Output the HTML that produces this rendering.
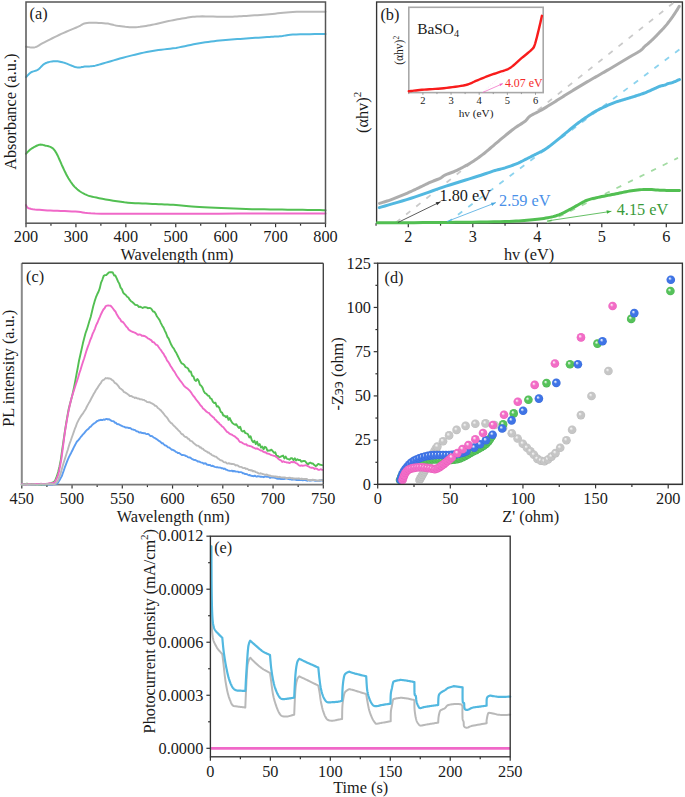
<!DOCTYPE html>
<html><head><meta charset="utf-8"><title>Figure</title>
<style>html,body{margin:0;padding:0;background:#fff;overflow:hidden}svg{display:block}text{font-family:"Liberation Serif",serif}</style>
</head><body>
<svg width="685" height="797" viewBox="0 0 685 797"><defs><radialGradient id="gB" cx="0.5" cy="0.5" r="0.5" fx="0.36" fy="0.33"><stop offset="0" stop-color="#dfe8fb" stop-opacity="1"/><stop offset="0.1" stop-color="#dfe8fb"/><stop offset="0.42" stop-color="#3f74e6"/><stop offset="0.85" stop-color="#3f74e6"/><stop offset="1" stop-color="#3468d8"/></radialGradient><radialGradient id="gG" cx="0.5" cy="0.5" r="0.5" fx="0.36" fy="0.33"><stop offset="0" stop-color="#e2f4e3" stop-opacity="1"/><stop offset="0.1" stop-color="#e2f4e3"/><stop offset="0.42" stop-color="#55c25a"/><stop offset="0.85" stop-color="#55c25a"/><stop offset="1" stop-color="#45b04b"/></radialGradient><radialGradient id="gP" cx="0.5" cy="0.5" r="0.5" fx="0.36" fy="0.33"><stop offset="0" stop-color="#fde4f4" stop-opacity="1"/><stop offset="0.1" stop-color="#fde4f4"/><stop offset="0.42" stop-color="#f26cc6"/><stop offset="0.85" stop-color="#f26cc6"/><stop offset="1" stop-color="#e85bb9"/></radialGradient><radialGradient id="gY" cx="0.5" cy="0.5" r="0.5" fx="0.36" fy="0.33"><stop offset="0" stop-color="#f0f0f0" stop-opacity="1"/><stop offset="0.1" stop-color="#f0f0f0"/><stop offset="0.42" stop-color="#c6c6c6"/><stop offset="0.85" stop-color="#c6c6c6"/><stop offset="1" stop-color="#b8b8b8"/></radialGradient></defs><rect width="685" height="797" fill="#fff"/><line x1="26" y1="223.2" x2="26" y2="227.2" stroke="#333333" stroke-width="1.2" />
<text x="26" y="242" font-size="16.3" text-anchor="middle" fill="#1a1a1a" >200</text>
<line x1="50.96" y1="223.2" x2="50.96" y2="225.7" stroke="#333333" stroke-width="1.2" />
<line x1="75.92" y1="223.2" x2="75.92" y2="227.2" stroke="#333333" stroke-width="1.2" />
<text x="75.92" y="242" font-size="16.3" text-anchor="middle" fill="#1a1a1a" >300</text>
<line x1="100.88" y1="223.2" x2="100.88" y2="225.7" stroke="#333333" stroke-width="1.2" />
<line x1="125.83" y1="223.2" x2="125.83" y2="227.2" stroke="#333333" stroke-width="1.2" />
<text x="125.83" y="242" font-size="16.3" text-anchor="middle" fill="#1a1a1a" >400</text>
<line x1="150.79" y1="223.2" x2="150.79" y2="225.7" stroke="#333333" stroke-width="1.2" />
<line x1="175.75" y1="223.2" x2="175.75" y2="227.2" stroke="#333333" stroke-width="1.2" />
<text x="175.75" y="242" font-size="16.3" text-anchor="middle" fill="#1a1a1a" >500</text>
<line x1="200.71" y1="223.2" x2="200.71" y2="225.7" stroke="#333333" stroke-width="1.2" />
<line x1="225.67" y1="223.2" x2="225.67" y2="227.2" stroke="#333333" stroke-width="1.2" />
<text x="225.67" y="242" font-size="16.3" text-anchor="middle" fill="#1a1a1a" >600</text>
<line x1="250.62" y1="223.2" x2="250.62" y2="225.7" stroke="#333333" stroke-width="1.2" />
<line x1="275.58" y1="223.2" x2="275.58" y2="227.2" stroke="#333333" stroke-width="1.2" />
<text x="275.58" y="242" font-size="16.3" text-anchor="middle" fill="#1a1a1a" >700</text>
<line x1="300.54" y1="223.2" x2="300.54" y2="225.7" stroke="#333333" stroke-width="1.2" />
<line x1="325.5" y1="223.2" x2="325.5" y2="227.2" stroke="#333333" stroke-width="1.2" />
<text x="325.5" y="242" font-size="16.3" text-anchor="middle" fill="#1a1a1a" >800</text>
<text x="177" y="259.7" font-size="16.3" text-anchor="middle" fill="#1a1a1a" >Wavelength (nm)</text>
<text x="0" y="0" font-size="16.3" text-anchor="middle" fill="#1a1a1a" transform="translate(16 111.7) rotate(-90)">Absorbance (a.u.)</text>
<text x="29.5" y="18.7" font-size="16.3" text-anchor="start" fill="#1a1a1a" >(a)</text>
<path d="M26 46.7 L26.66 46.79 L27.53 46.94 L28.58 47.13 L29.74 47.31 L30.96 47.47 L32.2 47.55 L33.39 47.54 L34.5 47.4 L35.48 47.14 L36.38 46.79 L37.24 46.36 L38.11 45.86 L39.04 45.28 L40.09 44.65 L41.29 43.95 L42.7 43.2 L44.33 42.37 L46.15 41.43 L48.11 40.41 L50.19 39.34 L52.36 38.24 L54.57 37.14 L56.79 36.05 L59 35 L61.29 33.95 L63.72 32.87 L66.25 31.77 L68.78 30.69 L71.26 29.63 L73.62 28.63 L75.79 27.72 L77.7 26.9 L79.26 26.17 L80.49 25.51 L81.5 24.9 L82.4 24.36 L83.3 23.89 L84.31 23.49 L85.54 23.16 L87.1 22.9 L89.04 22.73 L91.29 22.67 L93.74 22.68 L96.31 22.76 L98.9 22.88 L101.41 23.04 L103.74 23.22 L105.8 23.4 L107.56 23.61 L109.09 23.86 L110.46 24.16 L111.74 24.48 L113.01 24.81 L114.33 25.13 L115.77 25.43 L117.4 25.7 L119.22 25.96 L121.16 26.24 L123.2 26.51 L125.31 26.78 L127.45 27 L129.59 27.18 L131.72 27.28 L133.8 27.3 L135.84 27.23 L137.88 27.07 L139.92 26.85 L141.95 26.58 L143.98 26.27 L146.02 25.92 L148.06 25.56 L150.1 25.2 L152.14 24.81 L154.17 24.38 L156.19 23.91 L158.22 23.43 L160.27 22.93 L162.32 22.43 L164.4 21.95 L166.5 21.5 L168.65 21.06 L170.85 20.61 L173.07 20.17 L175.31 19.73 L177.54 19.31 L179.75 18.91 L181.91 18.54 L184 18.2 L185.94 17.89 L187.7 17.59 L189.38 17.32 L191.04 17.07 L192.79 16.85 L194.71 16.66 L196.89 16.51 L199.4 16.4 L202.36 16.35 L205.73 16.38 L209.39 16.45 L213.19 16.54 L217.03 16.65 L220.76 16.74 L224.26 16.8 L227.4 16.8 L230.15 16.76 L232.62 16.69 L234.89 16.59 L237.04 16.48 L239.16 16.35 L241.32 16.21 L243.61 16.06 L246.1 15.9 L248.79 15.73 L251.6 15.54 L254.5 15.34 L257.46 15.13 L260.45 14.91 L263.46 14.68 L266.45 14.44 L269.4 14.2 L272.26 13.94 L275.02 13.64 L277.76 13.33 L280.51 13.01 L283.34 12.71 L286.29 12.43 L289.43 12.19 L292.8 12 L296.67 11.87 L301.09 11.78 L305.82 11.74 L310.61 11.71 L315.22 11.71 L319.41 11.71 L322.91 11.71 L325.5 11.7" fill="none" stroke="#b9b9b9" stroke-width="2.0" stroke-linejoin="round" stroke-linecap="round" />
<path d="M26 77.1 L26.37 76.72 L26.85 76.21 L27.42 75.6 L28.06 74.92 L28.76 74.23 L29.49 73.55 L30.25 72.93 L31 72.4 L31.78 71.98 L32.61 71.64 L33.48 71.36 L34.38 71.09 L35.29 70.81 L36.2 70.49 L37.11 70.09 L38 69.6 L38.86 68.97 L39.69 68.22 L40.52 67.39 L41.35 66.52 L42.2 65.65 L43.08 64.84 L44.01 64.1 L45 63.5 L46.06 63.01 L47.18 62.57 L48.35 62.2 L49.56 61.88 L50.78 61.62 L52 61.43 L53.21 61.28 L54.4 61.2 L55.54 61.18 L56.65 61.21 L57.74 61.31 L58.83 61.46 L59.95 61.67 L61.12 61.93 L62.37 62.24 L63.7 62.6 L65.17 63.07 L66.78 63.67 L68.48 64.36 L70.23 65.08 L71.96 65.79 L73.63 66.43 L75.19 66.95 L76.6 67.3 L77.83 67.47 L78.93 67.5 L79.93 67.43 L80.87 67.29 L81.78 67.1 L82.7 66.9 L83.66 66.72 L84.7 66.6 L85.8 66.53 L86.9 66.49 L88.03 66.45 L89.17 66.41 L90.35 66.35 L91.56 66.26 L92.81 66.11 L94.1 65.9 L95.37 65.63 L96.59 65.33 L97.81 64.99 L99.08 64.61 L100.46 64.19 L102.01 63.71 L103.77 63.18 L105.8 62.6 L108.16 61.93 L110.81 61.17 L113.68 60.34 L116.72 59.47 L119.85 58.58 L123 57.71 L126.1 56.87 L129.1 56.1 L132.02 55.37 L134.94 54.66 L137.86 53.96 L140.79 53.28 L143.71 52.63 L146.64 52.01 L149.57 51.44 L152.5 50.9 L155.43 50.43 L158.37 50.04 L161.31 49.69 L164.25 49.37 L167.19 49.05 L170.13 48.72 L173.07 48.34 L176 47.9 L178.93 47.38 L181.86 46.8 L184.79 46.19 L187.71 45.55 L190.64 44.91 L193.56 44.3 L196.48 43.72 L199.4 43.2 L202.32 42.73 L205.23 42.3 L208.14 41.89 L211.05 41.51 L213.96 41.16 L216.87 40.82 L219.78 40.5 L222.7 40.2 L225.62 39.92 L228.55 39.68 L231.47 39.46 L234.4 39.26 L237.33 39.07 L240.25 38.89 L243.18 38.7 L246.1 38.5 L249.1 38.29 L252.2 38.07 L255.35 37.85 L258.48 37.64 L261.52 37.43 L264.39 37.23 L267.04 37.06 L269.4 36.9 L271.42 36.78 L273.14 36.68 L274.64 36.61 L275.97 36.55 L277.22 36.49 L278.45 36.42 L279.72 36.32 L281.1 36.2 L282.42 36.04 L283.53 35.84 L284.56 35.63 L285.64 35.4 L286.87 35.17 L288.4 34.96 L290.33 34.76 L292.8 34.6 L296.11 34.46 L300.26 34.35 L304.96 34.24 L309.88 34.15 L314.71 34.07 L319.13 34 L322.83 33.95 L325.5 33.9" fill="none" stroke="#52b8e0" stroke-width="2.0" stroke-linejoin="round" stroke-linecap="round" />
<path d="M26 153.7 L26.36 153.33 L26.82 152.84 L27.37 152.26 L27.99 151.61 L28.67 150.93 L29.41 150.25 L30.19 149.6 L31 149 L31.89 148.42 L32.88 147.8 L33.95 147.17 L35.05 146.56 L36.16 145.99 L37.24 145.49 L38.27 145.09 L39.2 144.8 L40.03 144.64 L40.79 144.59 L41.5 144.63 L42.18 144.74 L42.84 144.9 L43.52 145.1 L44.23 145.3 L45 145.5 L45.83 145.69 L46.72 145.88 L47.64 146.09 L48.57 146.33 L49.49 146.6 L50.38 146.93 L51.23 147.33 L52 147.8 L52.69 148.32 L53.31 148.86 L53.88 149.45 L54.42 150.09 L54.96 150.82 L55.5 151.66 L56.08 152.61 L56.7 153.7 L57.37 154.98 L58.07 156.44 L58.79 158.04 L59.53 159.74 L60.27 161.48 L61.02 163.22 L61.76 164.91 L62.5 166.5 L63.23 168.03 L63.94 169.56 L64.66 171.07 L65.38 172.56 L66.1 174.03 L66.85 175.46 L67.61 176.86 L68.4 178.2 L69.21 179.5 L70.02 180.78 L70.84 182.02 L71.69 183.22 L72.56 184.39 L73.46 185.51 L74.41 186.58 L75.4 187.6 L76.44 188.57 L77.51 189.5 L78.61 190.38 L79.76 191.22 L80.94 192.01 L82.15 192.75 L83.41 193.45 L84.7 194.1 L85.94 194.67 L87.07 195.16 L88.2 195.58 L89.38 195.96 L90.71 196.33 L92.27 196.71 L94.14 197.13 L96.4 197.6 L99.12 198.15 L102.25 198.76 L105.7 199.41 L109.38 200.07 L113.18 200.71 L117.01 201.31 L120.78 201.85 L124.4 202.3 L127.94 202.65 L131.53 202.93 L135.13 203.15 L138.73 203.33 L142.3 203.47 L145.8 203.61 L149.21 203.75 L152.5 203.9 L155.66 204.06 L158.7 204.19 L161.65 204.31 L164.54 204.43 L167.4 204.55 L170.24 204.68 L173.1 204.83 L176 205 L178.77 205.2 L181.31 205.41 L183.76 205.65 L186.25 205.89 L188.92 206.14 L191.91 206.39 L195.36 206.65 L199.4 206.9 L204.12 207.16 L209.44 207.44 L215.21 207.73 L221.29 208.03 L227.56 208.31 L233.88 208.57 L240.1 208.8 L246.1 209 L252.03 209.16 L258.1 209.28 L264.23 209.37 L270.32 209.45 L276.31 209.51 L282.11 209.57 L287.63 209.63 L292.8 209.7 L297.78 209.78 L302.73 209.85 L307.52 209.92 L312.07 209.99 L316.25 210.06 L319.95 210.11 L323.07 210.16 L325.5 210.2" fill="none" stroke="#52bf52" stroke-width="2.0" stroke-linejoin="round" stroke-linecap="round" />
<path d="M26 205.1 L26.2 205.38 L26.36 205.77 L26.54 206.23 L26.8 206.74 L27.2 207.26 L27.79 207.76 L28.64 208.22 L29.8 208.6 L31.27 208.91 L32.99 209.18 L34.93 209.43 L37.09 209.64 L39.43 209.84 L41.95 210.03 L44.61 210.22 L47.4 210.4 L50.42 210.57 L53.72 210.72 L57.24 210.85 L60.89 210.98 L64.61 211.11 L68.32 211.25 L71.94 211.41 L75.4 211.6 L78.33 211.83 L80.65 212.11 L82.69 212.41 L84.82 212.72 L87.37 213.03 L90.71 213.3 L95.17 213.53 L101.1 213.7 L108.32 213.8 L116.43 213.85 L125.42 213.87 L135.31 213.85 L146.11 213.81 L157.81 213.77 L170.44 213.73 L184 213.7 L199.85 213.67 L218.57 213.64 L238.99 213.6 L259.93 213.55 L280.23 213.5 L298.7 213.46 L314.18 213.43 L325.5 213.4" fill="none" stroke="#f068c8" stroke-width="2.0" stroke-linejoin="round" stroke-linecap="round" />
<rect x="26" y="2" width="299.5" height="221.2" fill="none" stroke="#555555" stroke-width="1.5"/>
<line x1="376.05" y1="223.2" x2="376.05" y2="225.7" stroke="#333333" stroke-width="1.2" />
<line x1="408.3" y1="223.2" x2="408.3" y2="227.2" stroke="#333333" stroke-width="1.2" />
<text x="408.3" y="242" font-size="16.3" text-anchor="middle" fill="#1a1a1a" >2</text>
<line x1="440.55" y1="223.2" x2="440.55" y2="225.7" stroke="#333333" stroke-width="1.2" />
<line x1="472.8" y1="223.2" x2="472.8" y2="227.2" stroke="#333333" stroke-width="1.2" />
<text x="472.8" y="242" font-size="16.3" text-anchor="middle" fill="#1a1a1a" >3</text>
<line x1="505.05" y1="223.2" x2="505.05" y2="225.7" stroke="#333333" stroke-width="1.2" />
<line x1="537.3" y1="223.2" x2="537.3" y2="227.2" stroke="#333333" stroke-width="1.2" />
<text x="537.3" y="242" font-size="16.3" text-anchor="middle" fill="#1a1a1a" >4</text>
<line x1="569.55" y1="223.2" x2="569.55" y2="225.7" stroke="#333333" stroke-width="1.2" />
<line x1="601.8" y1="223.2" x2="601.8" y2="227.2" stroke="#333333" stroke-width="1.2" />
<text x="601.8" y="242" font-size="16.3" text-anchor="middle" fill="#1a1a1a" >5</text>
<line x1="634.05" y1="223.2" x2="634.05" y2="225.7" stroke="#333333" stroke-width="1.2" />
<line x1="666.3" y1="223.2" x2="666.3" y2="227.2" stroke="#333333" stroke-width="1.2" />
<text x="666.3" y="242" font-size="16.3" text-anchor="middle" fill="#1a1a1a" >6</text>
<text x="529" y="259.5" font-size="16.3" text-anchor="middle" fill="#1a1a1a" >h<tspan>v</tspan> (eV)</text>
<text x="0" y="0" font-size="16.3" text-anchor="middle" fill="#1a1a1a" transform="translate(367.5 112.4) rotate(-90)">(αhv)<tspan font-size="11" dy="-7">2</tspan></text>
<text x="380.4" y="19.5" font-size="16.3" text-anchor="start" fill="#1a1a1a" >(b)</text>
<rect x="376.6" y="2" width="305.8" height="221.2" fill="none" stroke="#333333" stroke-width="1.35"/>
<line x1="396" y1="222.5" x2="673.8" y2="2.6" stroke="#cacaca" stroke-width="1.8" stroke-dasharray="5.4 7.5"/>
<line x1="447.6" y1="222.5" x2="679.8" y2="49.3" stroke="#8cd3ee" stroke-width="1.8" stroke-dasharray="5.4 7.5"/>
<line x1="547" y1="222.5" x2="678" y2="157.9" stroke="#a2dba2" stroke-width="1.8" stroke-dasharray="5.4 7.5"/>
<path d="M379.5 203.4 L380.31 203.15 L381.4 202.82 L382.69 202.43 L384.12 201.99 L385.64 201.53 L387.16 201.04 L388.64 200.56 L390 200.1 L391.27 199.64 L392.54 199.18 L393.79 198.7 L395.03 198.21 L396.27 197.72 L397.51 197.22 L398.75 196.71 L400 196.2 L401.25 195.68 L402.5 195.16 L403.75 194.63 L405 194.1 L406.25 193.56 L407.5 193.01 L408.75 192.46 L410 191.9 L411.25 191.33 L412.5 190.76 L413.75 190.17 L415 189.58 L416.25 188.99 L417.5 188.39 L418.75 187.8 L420 187.2 L421.25 186.6 L422.5 185.99 L423.75 185.38 L425 184.76 L426.25 184.15 L427.5 183.55 L428.75 182.97 L430 182.4 L431.28 181.85 L432.62 181.3 L433.97 180.77 L435.31 180.25 L436.62 179.74 L437.85 179.25 L438.99 178.76 L440 178.3 L440.83 177.86 L441.48 177.45 L442.02 177.06 L442.5 176.69 L442.98 176.31 L443.52 175.93 L444.17 175.53 L445 175.1 L446.01 174.65 L447.15 174.2 L448.38 173.74 L449.69 173.27 L451.03 172.78 L452.38 172.28 L453.72 171.75 L455 171.2 L456.25 170.63 L457.5 170.03 L458.75 169.41 L460 168.78 L461.25 168.13 L462.5 167.47 L463.75 166.79 L465 166.1 L466.25 165.4 L467.5 164.7 L468.75 163.98 L470 163.24 L471.25 162.49 L472.5 161.72 L473.75 160.92 L475 160.1 L476.25 159.25 L477.5 158.37 L478.75 157.48 L480 156.56 L481.25 155.62 L482.5 154.66 L483.75 153.69 L485 152.7 L486.25 151.69 L487.5 150.65 L488.75 149.59 L490 148.51 L491.25 147.43 L492.5 146.34 L493.75 145.27 L495 144.2 L496.25 143.14 L497.5 142.08 L498.75 141.02 L500 139.96 L501.25 138.91 L502.5 137.86 L503.75 136.83 L505 135.8 L506.25 134.78 L507.5 133.76 L508.75 132.74 L510 131.74 L511.25 130.75 L512.5 129.77 L513.75 128.82 L515 127.9 L516.28 127 L517.62 126.13 L518.97 125.27 L520.31 124.43 L521.62 123.62 L522.85 122.82 L523.99 122.05 L525 121.3 L525.83 120.58 L526.48 119.9 L527.02 119.25 L527.5 118.62 L527.98 118 L528.52 117.37 L529.17 116.75 L530 116.1 L531.01 115.45 L532.15 114.8 L533.38 114.15 L534.69 113.5 L536.03 112.84 L537.38 112.18 L538.72 111.5 L540 110.8 L541.25 110.09 L542.5 109.36 L543.75 108.61 L545 107.86 L546.25 107.1 L547.5 106.34 L548.75 105.57 L550 104.8 L551.25 104.03 L552.5 103.25 L553.75 102.46 L555 101.67 L556.25 100.88 L557.5 100.08 L558.75 99.29 L560 98.5 L561.25 97.71 L562.5 96.92 L563.75 96.13 L565 95.34 L566.25 94.55 L567.5 93.76 L568.75 92.98 L570 92.2 L571.25 91.43 L572.5 90.66 L573.75 89.89 L575 89.12 L576.25 88.36 L577.5 87.61 L578.75 86.85 L580 86.1 L581.25 85.35 L582.5 84.61 L583.75 83.86 L585 83.12 L586.25 82.39 L587.5 81.66 L588.75 80.93 L590 80.2 L591.25 79.48 L592.5 78.76 L593.75 78.05 L595 77.34 L596.25 76.64 L597.5 75.93 L598.75 75.22 L600 74.5 L601.25 73.78 L602.5 73.06 L603.75 72.34 L605 71.61 L606.25 70.89 L607.5 70.16 L608.75 69.43 L610 68.7 L611.25 67.97 L612.5 67.24 L613.75 66.5 L615 65.77 L616.25 65.03 L617.5 64.29 L618.75 63.55 L620 62.8 L621.25 62.05 L622.5 61.28 L623.75 60.51 L625 59.74 L626.25 58.97 L627.5 58.21 L628.75 57.45 L630 56.7 L631.28 55.95 L632.62 55.2 L633.97 54.45 L635.31 53.71 L636.62 52.98 L637.85 52.27 L638.99 51.57 L640 50.9 L640.86 50.26 L641.6 49.64 L642.24 49.04 L642.81 48.46 L643.34 47.88 L643.87 47.32 L644.41 46.76 L645 46.2 L645.62 45.65 L646.25 45.11 L646.88 44.58 L647.5 44.06 L648.12 43.53 L648.75 43 L649.38 42.46 L650 41.9 L650.62 41.33 L651.25 40.74 L651.88 40.15 L652.5 39.56 L653.12 38.95 L653.75 38.34 L654.38 37.72 L655 37.1 L655.62 36.47 L656.25 35.83 L656.88 35.18 L657.5 34.53 L658.12 33.87 L658.75 33.22 L659.38 32.56 L660 31.9 L660.62 31.25 L661.25 30.61 L661.88 29.96 L662.5 29.32 L663.12 28.67 L663.75 28 L664.38 27.31 L665 26.6 L665.62 25.87 L666.25 25.11 L666.88 24.35 L667.5 23.56 L668.12 22.77 L668.75 21.95 L669.38 21.13 L670 20.3 L670.63 19.45 L671.27 18.57 L671.91 17.68 L672.55 16.78 L673.18 15.88 L673.81 14.97 L674.41 14.08 L675 13.2 L675.59 12.29 L676.2 11.32 L676.82 10.33 L677.41 9.36 L677.97 8.44 L678.46 7.61 L678.88 6.92 L679.2 6.4" fill="none" stroke="#adadad" stroke-width="3.0" stroke-linejoin="round" stroke-linecap="round" />
<path d="M379.3 207.6 L381.72 206.89 L384.92 205.97 L388.72 204.88 L392.96 203.65 L397.48 202.33 L402.1 200.95 L406.66 199.56 L411 198.2 L415.22 196.82 L419.52 195.36 L423.88 193.85 L428.29 192.3 L432.73 190.74 L437.17 189.19 L441.6 187.67 L446 186.2 L450.52 184.73 L455.24 183.23 L460.05 181.72 L464.81 180.24 L469.41 178.82 L473.73 177.48 L477.63 176.27 L481 175.2 L483.78 174.3 L486.07 173.53 L487.96 172.88 L489.56 172.32 L490.97 171.83 L492.27 171.38 L493.58 170.94 L495 170.5 L496.43 170.09 L497.73 169.74 L498.96 169.45 L500.12 169.18 L501.28 168.91 L502.45 168.62 L503.68 168.29 L505 167.9 L506.43 167.44 L507.95 166.94 L509.53 166.39 L511.12 165.83 L512.71 165.26 L514.23 164.69 L515.68 164.13 L517 163.6 L518.18 163.1 L519.23 162.62 L520.21 162.16 L521.12 161.7 L522.03 161.23 L522.95 160.75 L523.93 160.24 L525 159.7 L526.15 159.12 L527.36 158.51 L528.6 157.88 L529.88 157.23 L531.16 156.57 L532.45 155.91 L533.74 155.25 L535 154.6 L536.25 153.97 L537.5 153.36 L538.75 152.76 L540 152.15 L541.25 151.52 L542.5 150.86 L543.75 150.16 L545 149.4 L546.25 148.58 L547.5 147.7 L548.75 146.79 L550 145.84 L551.25 144.86 L552.5 143.88 L553.75 142.89 L555 141.9 L556.25 140.91 L557.5 139.9 L558.75 138.88 L560 137.85 L561.25 136.81 L562.5 135.77 L563.75 134.73 L565 133.7 L566.25 132.66 L567.5 131.61 L568.75 130.55 L570 129.49 L571.25 128.44 L572.5 127.41 L573.75 126.39 L575 125.4 L576.25 124.43 L577.5 123.49 L578.75 122.55 L580 121.64 L581.25 120.73 L582.5 119.85 L583.75 118.97 L585 118.1 L586.25 117.24 L587.5 116.38 L588.75 115.54 L590 114.71 L591.25 113.89 L592.5 113.1 L593.75 112.34 L595 111.6 L596.25 110.9 L597.5 110.23 L598.75 109.58 L600 108.96 L601.25 108.35 L602.5 107.76 L603.75 107.18 L605 106.6 L606.25 106.03 L607.5 105.47 L608.75 104.92 L610 104.39 L611.25 103.87 L612.5 103.36 L613.75 102.87 L615 102.4 L616.25 101.95 L617.5 101.53 L618.75 101.12 L620 100.73 L621.25 100.34 L622.5 99.96 L623.75 99.58 L625 99.2 L626.25 98.82 L627.5 98.45 L628.75 98.08 L630 97.71 L631.25 97.35 L632.5 96.97 L633.75 96.59 L635 96.2 L636.25 95.8 L637.5 95.4 L638.75 95 L640 94.59 L641.25 94.17 L642.5 93.73 L643.75 93.28 L645 92.8 L646.28 92.28 L647.62 91.72 L648.97 91.13 L650.31 90.52 L651.62 89.93 L652.85 89.37 L653.99 88.85 L655 88.4 L655.86 88.01 L656.6 87.67 L657.24 87.37 L657.81 87.1 L658.34 86.86 L658.87 86.63 L659.41 86.41 L660 86.2 L660.64 86 L661.3 85.83 L661.96 85.69 L662.62 85.55 L663.27 85.42 L663.89 85.29 L664.47 85.15 L665 85 L665.46 84.83 L665.87 84.65 L666.23 84.47 L666.56 84.28 L666.89 84.1 L667.23 83.92 L667.59 83.75 L668 83.6 L668.45 83.47 L668.93 83.36 L669.43 83.26 L669.94 83.16 L670.46 83.07 L670.98 82.96 L671.49 82.84 L672 82.7 L672.5 82.53 L673.01 82.35 L673.52 82.15 L674.03 81.94 L674.54 81.73 L675.04 81.52 L675.52 81.3 L676 81.1 L676.49 80.89 L676.99 80.66 L677.5 80.43 L678 80.2 L678.47 79.98 L678.88 79.79 L679.23 79.62 L679.5 79.5" fill="none" stroke="#52b8e0" stroke-width="3.0" stroke-linejoin="round" stroke-linecap="round" />
<path d="M377.5 222.7 L382.34 222.69 L388.79 222.68 L396.47 222.67 L405 222.65 L414 222.63 L423.09 222.6 L431.88 222.56 L440 222.5 L447.85 222.43 L455.95 222.36 L464.13 222.27 L472.22 222.17 L480.03 222.07 L487.38 221.96 L494.1 221.83 L500 221.7 L505.01 221.56 L509.26 221.41 L512.9 221.25 L516.07 221.09 L518.92 220.91 L521.59 220.72 L524.24 220.52 L527 220.3 L529.79 220.07 L532.42 219.84 L534.92 219.59 L537.29 219.33 L539.56 219.06 L541.74 218.76 L543.85 218.44 L545.9 218.1 L547.85 217.75 L549.65 217.39 L551.36 217.03 L552.99 216.64 L554.57 216.21 L556.15 215.74 L557.75 215.2 L559.4 214.6 L561.09 213.91 L562.77 213.14 L564.46 212.31 L566.15 211.44 L567.84 210.53 L569.52 209.61 L571.21 208.7 L572.9 207.8 L574.59 206.89 L576.27 205.92 L577.96 204.93 L579.65 203.94 L581.34 202.98 L583.02 202.07 L584.71 201.23 L586.4 200.5 L588.07 199.88 L589.71 199.35 L591.34 198.9 L592.98 198.49 L594.64 198.12 L596.34 197.76 L598.08 197.4 L599.9 197 L601.81 196.58 L603.82 196.17 L605.9 195.76 L608 195.35 L610.1 194.95 L612.18 194.56 L614.19 194.17 L616.1 193.8 L617.9 193.43 L619.6 193.07 L621.24 192.71 L622.85 192.36 L624.46 192.02 L626.1 191.69 L627.8 191.39 L629.6 191.1 L631.5 190.82 L633.46 190.54 L635.48 190.28 L637.53 190.03 L639.61 189.8 L641.69 189.62 L643.76 189.48 L645.8 189.4 L647.82 189.39 L649.82 189.46 L651.81 189.58 L653.81 189.73 L655.82 189.9 L657.85 190.06 L659.91 190.2 L662 190.3 L664.25 190.36 L666.71 190.4 L669.27 190.44 L671.81 190.46 L674.23 190.47 L676.4 190.48 L678.23 190.49 L679.6 190.5" fill="none" stroke="#52bf52" stroke-width="3.0" stroke-linejoin="round" stroke-linecap="round" />
<line x1="397.9" y1="222.5" x2="440.6" y2="201.7" stroke="#333" stroke-width="0.8" />
<path d="M440.6 201.7 L437.13 205.3 L435.63 202.22 Z" fill="#333"/>
<text x="439.5" y="200.6" font-size="16.3" text-anchor="start" fill="#1a1a1a" >1.80 eV</text>
<line x1="447" y1="221.5" x2="495.9" y2="202.6" stroke="#4aa8e0" stroke-width="0.8" />
<path d="M495.9 202.6 L492.14 205.89 L490.9 202.69 Z" fill="#4aa8e0"/>
<text x="499" y="206.4" font-size="16.3" text-anchor="start" fill="#4a90e8" >2.59 eV</text>
<line x1="547" y1="221" x2="611.4" y2="211.3" stroke="#3fb03f" stroke-width="0.8" />
<path d="M611.4 211.3 L607.01 213.69 L606.5 210.3 Z" fill="#3fb03f"/>
<text x="616.7" y="214.8" font-size="16.3" text-anchor="start" fill="#3a9a3a" >4.15 eV</text>
<rect x="408.8" y="7.3" width="134.4" height="85.3" fill="#fff" stroke="#a8a8a8" stroke-width="1.6"/>
<line x1="408.82" y1="92.6" x2="408.82" y2="94.1" stroke="#888" stroke-width="0.8" />
<line x1="422.9" y1="92.6" x2="422.9" y2="94.8" stroke="#888" stroke-width="0.8" />
<text x="422.9" y="104" font-size="10.5" text-anchor="middle" fill="#1a1a1a" >2</text>
<line x1="436.97" y1="92.6" x2="436.97" y2="94.1" stroke="#888" stroke-width="0.8" />
<line x1="451.05" y1="92.6" x2="451.05" y2="94.8" stroke="#888" stroke-width="0.8" />
<text x="451.05" y="104" font-size="10.5" text-anchor="middle" fill="#1a1a1a" >3</text>
<line x1="465.12" y1="92.6" x2="465.12" y2="94.1" stroke="#888" stroke-width="0.8" />
<line x1="479.2" y1="92.6" x2="479.2" y2="94.8" stroke="#888" stroke-width="0.8" />
<text x="479.2" y="104" font-size="10.5" text-anchor="middle" fill="#1a1a1a" >4</text>
<line x1="493.27" y1="92.6" x2="493.27" y2="94.1" stroke="#888" stroke-width="0.8" />
<line x1="507.35" y1="92.6" x2="507.35" y2="94.8" stroke="#888" stroke-width="0.8" />
<text x="507.35" y="104" font-size="10.5" text-anchor="middle" fill="#1a1a1a" >5</text>
<line x1="521.42" y1="92.6" x2="521.42" y2="94.1" stroke="#888" stroke-width="0.8" />
<line x1="535.5" y1="92.6" x2="535.5" y2="94.8" stroke="#888" stroke-width="0.8" />
<text x="535.5" y="104" font-size="10.5" text-anchor="middle" fill="#1a1a1a" >6</text>
<text x="476.1" y="116.9" font-size="11.3" text-anchor="middle" fill="#1a1a1a" >hv (eV)</text>
<text x="0" y="0" font-size="11.5" text-anchor="middle" fill="#1a1a1a" transform="translate(403.3 50.3) rotate(-90)">(αhv)<tspan font-size="7.5" dy="-4.8">2</tspan></text>
<text x="417.2" y="33.9" font-size="15.4" text-anchor="start" fill="#1a1a1a" >BaSO<tspan font-size="10.3" dy="3.4">4</tspan></text>
<path d="M408.8 91.3 L409.75 91.18 L410.95 91.03 L412.37 90.85 L413.98 90.65 L415.77 90.44 L417.7 90.22 L419.75 90 L421.9 89.8 L424.22 89.62 L426.76 89.44 L429.47 89.28 L432.3 89.11 L435.2 88.92 L438.12 88.71 L441 88.48 L443.8 88.2 L446.61 87.88 L449.53 87.54 L452.5 87.17 L455.44 86.78 L458.29 86.36 L461 85.92 L463.49 85.47 L465.7 85 L467.59 84.51 L469.2 83.98 L470.59 83.44 L471.83 82.88 L472.99 82.3 L474.13 81.73 L475.31 81.16 L476.6 80.6 L477.97 80.05 L479.35 79.49 L480.72 78.93 L482.1 78.37 L483.48 77.81 L484.85 77.26 L486.23 76.73 L487.6 76.2 L488.97 75.69 L490.33 75.19 L491.69 74.71 L493.05 74.23 L494.41 73.75 L495.77 73.27 L497.13 72.79 L498.5 72.3 L499.87 71.84 L501.25 71.43 L502.62 71.04 L504 70.63 L505.38 70.19 L506.75 69.67 L508.13 69.05 L509.5 68.3 L510.87 67.4 L512.23 66.37 L513.59 65.23 L514.95 64.03 L516.31 62.78 L517.67 61.52 L519.03 60.29 L520.4 59.1 L521.82 57.92 L523.32 56.7 L524.86 55.47 L526.38 54.24 L527.83 53.04 L529.19 51.9 L530.39 50.85 L531.4 49.9 L532.17 49.15 L532.74 48.62 L533.16 48.22 L533.47 47.85 L533.73 47.43 L533.99 46.85 L534.29 46.04 L534.7 44.9 L535.2 43.37 L535.74 41.51 L536.3 39.42 L536.88 37.18 L537.45 34.88 L538 32.61 L538.52 30.45 L539 28.5 L539.45 26.65 L539.89 24.77 L540.32 22.91 L540.72 21.12 L541.09 19.47 L541.41 18 L541.69 16.75 L541.9 15.8" fill="none" stroke="#f81c1c" stroke-width="2.4" stroke-linejoin="round" stroke-linecap="round" />
<line x1="482.8" y1="92.4" x2="506" y2="71" stroke="#f7c0e4" stroke-width="0.5" stroke-dasharray="1 1.5"/>
<line x1="482.8" y1="92.4" x2="502.9" y2="83.6" stroke="#f060c0" stroke-width="0.7" />
<path d="M502.9 83.6 L500.37 86.02 L499.41 83.82 Z" fill="#f060c0"/>
<text x="504.9" y="87.2" font-size="11.9" text-anchor="start" fill="#f52a2a" >4.07 eV</text>
<line x1="21.8" y1="484.6" x2="21.8" y2="488.6" stroke="#333333" stroke-width="1.2" />
<text x="21.8" y="503.5" font-size="16.3" text-anchor="middle" fill="#1a1a1a" >450</text>
<line x1="46.92" y1="484.6" x2="46.92" y2="487.1" stroke="#333333" stroke-width="1.2" />
<line x1="72.05" y1="484.6" x2="72.05" y2="488.6" stroke="#333333" stroke-width="1.2" />
<text x="72.05" y="503.5" font-size="16.3" text-anchor="middle" fill="#1a1a1a" >500</text>
<line x1="97.17" y1="484.6" x2="97.17" y2="487.1" stroke="#333333" stroke-width="1.2" />
<line x1="122.3" y1="484.6" x2="122.3" y2="488.6" stroke="#333333" stroke-width="1.2" />
<text x="122.3" y="503.5" font-size="16.3" text-anchor="middle" fill="#1a1a1a" >550</text>
<line x1="147.42" y1="484.6" x2="147.42" y2="487.1" stroke="#333333" stroke-width="1.2" />
<line x1="172.55" y1="484.6" x2="172.55" y2="488.6" stroke="#333333" stroke-width="1.2" />
<text x="172.55" y="503.5" font-size="16.3" text-anchor="middle" fill="#1a1a1a" >600</text>
<line x1="197.67" y1="484.6" x2="197.67" y2="487.1" stroke="#333333" stroke-width="1.2" />
<line x1="222.8" y1="484.6" x2="222.8" y2="488.6" stroke="#333333" stroke-width="1.2" />
<text x="222.8" y="503.5" font-size="16.3" text-anchor="middle" fill="#1a1a1a" >650</text>
<line x1="247.92" y1="484.6" x2="247.92" y2="487.1" stroke="#333333" stroke-width="1.2" />
<line x1="273.05" y1="484.6" x2="273.05" y2="488.6" stroke="#333333" stroke-width="1.2" />
<text x="273.05" y="503.5" font-size="16.3" text-anchor="middle" fill="#1a1a1a" >700</text>
<line x1="298.17" y1="484.6" x2="298.17" y2="487.1" stroke="#333333" stroke-width="1.2" />
<line x1="323.3" y1="484.6" x2="323.3" y2="488.6" stroke="#333333" stroke-width="1.2" />
<text x="323.3" y="503.5" font-size="16.3" text-anchor="middle" fill="#1a1a1a" >750</text>
<text x="173.2" y="522" font-size="16.3" text-anchor="middle" fill="#1a1a1a" >Wavelength (nm)</text>
<text x="0" y="0" font-size="16.3" text-anchor="middle" fill="#1a1a1a" transform="translate(13.5 368.2) rotate(-90)">PL intensity (a.u.)</text>
<text x="26" y="281.5" font-size="16.3" text-anchor="start" fill="#1a1a1a" >(c)</text>
<line x1="21.8" y1="484.6" x2="323.3" y2="484.6" stroke="#787878" stroke-width="1.8" />
<line x1="21.8" y1="263.2" x2="21.8" y2="485.5" stroke="#8a8a8a" stroke-width="2.0" />
<path d="M21.8 484.22 L22.8 484.36 L23.8 484.27 L24.8 484.38 L25.8 484.38 L26.8 484.09 L27.8 484.06 L28.8 484.49 L29.8 484.24 L30.8 484.26 L31.8 484.67 L32.8 484.45 L33.8 484.66 L34.8 484.52 L35.8 484.6 L36.8 484.36 L37.8 484.59 L38.8 484.71 L39.8 484.53 L40.8 484.64 L41.8 484.6 L42.8 484.29 L43.8 484.63 L44.8 484.55 L45.8 484.39 L46.8 484.25 L47.8 484.66 L48.8 484.46 L49.8 484.53 L50.8 484.55 L51.8 484.42 L52.8 484.47 L53.8 484.18 L54.8 484.38 L55.8 483.95 L56.8 483.72 L57.8 482.9 L58.8 481.32 L59.8 479.81 L60.8 477.92 L61.8 476.08 L62.8 473.29 L63.8 470.5 L64.8 467.42 L65.8 464.82 L66.8 462.14 L67.8 459.63 L68.8 457.46 L69.8 455.39 L70.8 453.54 L71.8 451.44 L72.8 449.5 L73.8 447.4 L74.8 445.52 L75.8 443.59 L76.8 441.77 L77.8 440.74 L78.8 439.54 L79.8 438.3 L80.8 436.97 L81.8 435.89 L82.8 434.49 L83.8 433.64 L84.8 432.4 L85.8 431.17 L86.8 429.99 L87.8 429.36 L88.8 428.44 L89.8 427.06 L90.8 426.56 L91.8 425.44 L92.8 424.39 L93.8 423.6 L94.8 423.03 L95.8 422.34 L96.8 421.25 L97.8 420.93 L98.8 420.24 L99.8 420.27 L100.8 419.75 L101.8 420.04 L102.8 419.97 L103.8 419.43 L104.8 419.83 L105.8 419.15 L106.8 418.93 L107.8 419.5 L108.8 419.21 L109.8 419.71 L110.8 420.35 L111.8 421.02 L112.8 421.11 L113.8 421.48 L114.8 422.69 L115.8 422.68 L116.8 423.78 L117.8 424.24 L118.8 424.3 L119.8 424.88 L120.8 425.41 L121.8 425.98 L122.8 426.36 L123.8 426.7 L124.8 427.08 L125.8 427.64 L126.8 427.5 L127.8 427.67 L128.8 428.17 L129.8 428 L130.8 428.36 L131.8 429.34 L132.8 429.35 L133.8 429.86 L134.8 429.89 L135.8 430.76 L136.8 431.39 L137.8 431.33 L138.8 432.25 L139.8 432.57 L140.8 432.28 L141.8 432.95 L142.8 432.95 L143.8 433.29 L144.8 433.19 L145.8 433.77 L146.8 434.14 L147.8 433.88 L148.8 434.35 L149.8 435.38 L150.8 436.16 L151.8 436.07 L152.8 436.84 L153.8 437.56 L154.8 437.96 L155.8 438.66 L156.8 439.28 L157.8 440.01 L158.8 440.91 L159.8 441.36 L160.8 442.17 L161.8 443.22 L162.8 443.22 L163.8 444.39 L164.8 445.22 L165.8 445.5 L166.8 446.09 L167.8 447.25 L168.8 447.41 L169.8 448.02 L170.8 448.86 L171.8 449.69 L172.8 449.7 L173.8 450.43 L174.8 450.93 L175.8 451.93 L176.8 452.1 L177.8 453 L178.8 452.88 L179.8 453.52 L180.8 454.28 L181.8 454.97 L182.8 454.96 L183.8 455.11 L184.8 455.37 L185.8 456.1 L186.8 456.16 L187.8 457.09 L188.8 457.49 L189.8 457.37 L190.8 457.95 L191.8 458.92 L192.8 459.26 L193.8 459.89 L194.8 459.95 L195.8 460.23 L196.8 460.77 L197.8 461.59 L198.8 461.48 L199.8 461.9 L200.8 462.3 L201.8 462.63 L202.8 462.95 L203.8 463.7 L204.8 463.3 L205.8 463.44 L206.8 464.56 L207.8 464.76 L208.8 465.12 L209.8 464.87 L210.8 465.66 L211.8 465.98 L212.8 465.68 L213.8 466.49 L214.8 466.9 L215.8 467.08 L216.8 467.28 L217.8 467.3 L218.8 467.55 L219.8 467.65 L220.8 467.7 L221.8 468.36 L222.8 468.27 L223.8 468.93 L224.8 468.54 L225.8 469.64 L226.8 469.78 L227.8 470.3 L228.8 470.59 L229.8 470.9 L230.8 470.91 L231.8 470.59 L232.8 471.39 L233.8 470.99 L234.8 471.2 L235.8 471.62 L236.8 471.59 L237.8 471.59 L238.8 472.22 L239.8 472.13 L240.8 472.14 L241.8 472.36 L242.8 473.26 L243.8 473.28 L244.8 473.93 L245.8 473.92 L246.8 474.12 L247.8 474.73 L248.8 475.24 L249.8 474.89 L250.8 475.65 L251.8 475.97 L252.8 476.03 L253.8 476.21 L254.8 475.63 L255.8 476.33 L256.8 476.68 L257.8 476.09 L258.8 476.42 L259.8 476.49 L260.8 476.79 L261.8 476.75 L262.8 476.85 L263.8 477.18 L264.8 476.53 L265.8 476.62 L266.8 476.77 L267.8 476.86 L268.8 476.89 L269.8 477.79 L270.8 477.77 L271.8 477.16 L272.8 477.61 L273.8 477.63 L274.8 477.85 L275.8 478.11 L276.8 478.59 L277.8 478.76 L278.8 478.77 L279.8 478.84 L280.8 478.97 L281.8 478.74 L282.8 479.07 L283.8 479.17 L284.8 478.81 L285.8 478.49 L286.8 478.52 L287.8 478.79 L288.8 479.13 L289.8 479.42 L290.8 479.18 L291.8 479.69 L292.8 479.65 L293.8 479.59 L294.8 479.61 L295.8 479.79 L296.8 480.03 L297.8 479.84 L298.8 480.14 L299.8 479.99 L300.8 479.86 L301.8 480.15 L302.8 480.33 L303.8 479.8 L304.8 480.15 L305.8 480.18 L306.8 480.62 L307.8 480.71 L308.8 480.23 L309.8 480.73 L310.8 480.66 L311.8 480.21 L312.8 480.41 L313.8 480.13 L314.8 480.78 L315.8 480.66 L316.8 480.88 L317.8 480.81 L318.8 480.71 L319.8 480.78 L320.8 480.63 L321.8 480.22 L322.8 480.73" fill="none" stroke="#5b9cf0" stroke-width="1.9" stroke-linejoin="round" stroke-linecap="round" />
<path d="M21.8 484.47 L23.1 484.44 L24.4 484.13 L25.7 483.91 L27 483.68 L28.3 484.18 L29.6 484 L30.9 484.26 L32.2 484 L33.5 484.36 L34.8 484.01 L36.1 484.51 L37.4 484.54 L38.7 484.37 L40 484.55 L41.3 484.6 L42.6 484.14 L43.9 484.35 L45.2 484.47 L46.5 483.95 L47.8 484.2 L49.1 483.58 L50.4 483.55 L51.7 482.95 L53 482.31 L54.3 481.74 L55.6 479.4 L56.9 476.15 L58.2 471.75 L59.5 466.51 L60.8 459.85 L62.1 450.31 L63.4 441.36 L64.7 432.59 L66 424.06 L67.3 416.66 L68.6 409.47 L69.9 404.32 L71.2 399.59 L72.5 394.37 L73.8 388.56 L75.1 381.83 L76.4 374.81 L77.7 368 L79 360.79 L80.3 354.92 L81.6 349.21 L82.9 343.35 L84.2 338.34 L85.5 333.24 L86.8 329.66 L88.1 325.41 L89.4 321.05 L90.7 317.01 L92 311.51 L93.3 305.95 L94.6 301.41 L95.9 297.43 L97.2 294.28 L98.5 291.71 L99.8 288.15 L101.1 282.52 L102.4 279.54 L103.7 275.82 L105 275.1 L106.3 275.14 L107.6 273.73 L108.9 272.44 L110.2 272.18 L111.5 272.24 L112.8 272.54 L114.1 275.44 L115.4 275.53 L116.7 278.31 L118 281.41 L119.3 283.62 L120.6 287.6 L121.9 289.06 L123.2 292.6 L124.5 294.08 L125.8 294.94 L127.1 296.71 L128.4 297.46 L129.7 299.7 L131 301.17 L132.3 302.05 L133.6 303.15 L134.9 304.59 L136.2 304.98 L137.5 305.18 L138.8 307.03 L140.1 306.64 L141.4 307.3 L142.7 308.05 L144 307.19 L145.3 307.18 L146.6 307.39 L147.9 308.25 L149.2 307.92 L150.5 308.15 L151.8 309.43 L153.1 311.51 L154.4 311.78 L155.7 313.77 L157 316.53 L158.3 318.24 L159.6 320.15 L160.9 323.08 L162.2 325.66 L163.5 327.61 L164.8 330.61 L166.1 333.21 L167.4 336.85 L168.7 338.64 L170 341.76 L171.3 344.82 L172.6 347.16 L173.9 348.55 L175.2 351.32 L176.5 353.34 L177.8 356.01 L179.1 358.56 L180.4 361.28 L181.7 363.48 L183 363.99 L184.3 365.04 L185.6 367.15 L186.9 367.58 L188.2 368.77 L189.5 371.6 L190.8 371.5 L192.1 375.82 L193.4 376.33 L194.7 380.06 L196 380.92 L197.3 378.95 L198.6 380.54 L199.9 384.81 L201.2 385.8 L202.5 387.62 L203.8 391.22 L205.1 393.22 L206.4 393.8 L207.7 395.47 L209 395.8 L210.3 398.39 L211.6 398.84 L212.9 401.91 L214.2 403.05 L215.5 402.76 L216.8 406.48 L218.1 406.31 L219.4 408.16 L220.7 411.8 L222 412.5 L223.3 415.5 L224.6 415.76 L225.9 417.19 L227.2 416.1 L228.5 419.83 L229.8 418.01 L231.1 421.04 L232.4 423.08 L233.7 423.94 L235 424.74 L236.3 424.24 L237.6 426.38 L238.9 428.03 L240.2 426.81 L241.5 430.74 L242.8 431.54 L244.1 430.74 L245.4 433.18 L246.7 433.43 L248 434.29 L249.3 437.42 L250.6 436.35 L251.9 440.43 L253.2 442.28 L254.5 440.72 L255.8 444.12 L257.1 441.7 L258.4 445.45 L259.7 444.11 L261 447.62 L262.3 446.5 L263.6 449.29 L264.9 446.83 L266.2 447.57 L267.5 450.81 L268.8 450.55 L270.1 450.57 L271.4 449.62 L272.7 451.07 L274 452.74 L275.3 452.33 L276.6 456.35 L277.9 455.98 L279.2 457.2 L280.5 456.82 L281.8 456.03 L283.1 455.53 L284.4 458.42 L285.7 456.61 L287 458.88 L288.3 459.1 L289.6 459.69 L290.9 458.26 L292.2 458.29 L293.5 460.07 L294.8 458.31 L296.1 460.44 L297.4 459.3 L298.7 460.08 L300 459.89 L301.3 461.69 L302.6 461.25 L303.9 460.89 L305.2 461.2 L306.5 462.93 L307.8 464.68 L309.1 463.24 L310.4 462.65 L311.7 463.53 L313 463.54 L314.3 465.1 L315.6 466.1 L316.9 465.33 L318.2 463.93 L319.5 464.49 L320.8 464.81 L322.1 465.19" fill="none" stroke="#52bf52" stroke-width="1.9" stroke-linejoin="round" stroke-linecap="round" />
<path d="M21.8 484.23 L23 484.32 L24.2 484.37 L25.4 484.44 L26.6 484.31 L27.8 484.4 L29 483.85 L30.2 484.1 L31.4 484.38 L32.6 484.19 L33.8 484.34 L35 483.86 L36.2 484.06 L37.4 483.92 L38.6 484.09 L39.8 484.09 L41 483.74 L42.2 483.85 L43.4 483.85 L44.6 484.2 L45.8 484.06 L47 483.63 L48.2 483.78 L49.4 483.16 L50.6 483.46 L51.8 483.16 L53 482.97 L54.2 482.99 L55.4 481.11 L56.6 478.56 L57.8 475.82 L59 471.53 L60.2 465.24 L61.4 458.92 L62.6 449.86 L63.8 440.43 L65 431.38 L66.2 424.25 L67.4 417.07 L68.6 410.88 L69.8 405.21 L71 400 L72.2 395.83 L73.4 391.94 L74.6 388.28 L75.8 384.54 L77 380.86 L78.2 377.2 L79.4 373 L80.6 369.58 L81.8 365.56 L83 361.74 L84.2 358.19 L85.4 354.15 L86.6 350.33 L87.8 346.93 L89 343.72 L90.2 340.09 L91.4 337.51 L92.6 333.88 L93.8 331.35 L95 328.52 L96.2 325.19 L97.4 322.79 L98.6 319.73 L99.8 317.13 L101 314.22 L102.2 311.75 L103.4 309.5 L104.6 308.23 L105.8 306.04 L107 305.62 L108.2 305.4 L109.4 305.6 L110.6 305.8 L111.8 306.98 L113 308.52 L114.2 310.24 L115.4 311.46 L116.6 313.97 L117.8 315.99 L119 318.03 L120.2 319.19 L121.4 321.49 L122.6 321.77 L123.8 323.05 L125 324.74 L126.2 326.56 L127.4 327.62 L128.6 329.57 L129.8 330.43 L131 331.11 L132.2 331.75 L133.4 332.15 L134.6 332.56 L135.8 333.14 L137 334.11 L138.2 334.82 L139.4 334.38 L140.6 334.59 L141.8 335.76 L143 335.71 L144.2 336.01 L145.4 336.39 L146.6 337.36 L147.8 338.31 L149 338.81 L150.2 339.69 L151.4 340.39 L152.6 342.12 L153.8 342.22 L155 343.56 L156.2 344.87 L157.4 345.21 L158.6 347.04 L159.8 348.75 L161 350.13 L162.2 352.06 L163.4 353.55 L164.6 355.88 L165.8 357.65 L167 360.32 L168.2 361.84 L169.4 363.69 L170.6 366 L171.8 367.8 L173 369.85 L174.2 371.3 L175.4 373.36 L176.6 375.55 L177.8 377.25 L179 378.9 L180.2 380.69 L181.4 382.06 L182.6 383.69 L183.8 385.54 L185 386.77 L186.2 387.68 L187.4 388.59 L188.6 389.62 L189.8 390.71 L191 392.31 L192.2 394.28 L193.4 396.05 L194.6 397.2 L195.8 399.16 L197 400.72 L198.2 402.18 L199.4 403.66 L200.6 405.47 L201.8 406.5 L203 408.41 L204.2 409.31 L205.4 410.51 L206.6 411.78 L207.8 412.58 L209 412.95 L210.2 414.64 L211.4 415.67 L212.6 416.92 L213.8 417.53 L215 419.44 L216.2 420.31 L217.4 421.85 L218.6 422.65 L219.8 424.17 L221 425.11 L222.2 426.52 L223.4 427.29 L224.6 428.98 L225.8 430.41 L227 431.79 L228.2 432.34 L229.4 433.62 L230.6 434.28 L231.8 434.63 L233 435.51 L234.2 436.11 L235.4 436.84 L236.6 438.08 L237.8 438.86 L239 440.87 L240.2 442.1 L241.4 442.19 L242.6 443.09 L243.8 443.75 L245 444.37 L246.2 444.28 L247.4 445.45 L248.6 445.65 L249.8 446.16 L251 446.26 L252.2 446.91 L253.4 447.72 L254.6 448.13 L255.8 448.75 L257 448.41 L258.2 449.06 L259.4 449.82 L260.6 450.55 L261.8 450.56 L263 451.68 L264.2 452.2 L265.4 452.12 L266.6 453.25 L267.8 453.54 L269 453.89 L270.2 454.5 L271.4 455.15 L272.6 455.4 L273.8 455.82 L275 456.01 L276.2 456.99 L277.4 457.82 L278.6 459.02 L279.8 459.9 L281 460.36 L282.2 461.94 L283.4 461.19 L284.6 462 L285.8 462.15 L287 462.6 L288.2 462.45 L289.4 463.14 L290.6 462.42 L291.8 461.84 L293 462.37 L294.2 461.73 L295.4 462.93 L296.6 463.35 L297.8 464.3 L299 465.42 L300.2 465.8 L301.4 465.33 L302.6 465.81 L303.8 465.63 L305 465.32 L306.2 465.13 L307.4 466.09 L308.6 466.46 L309.8 467.33 L311 467.72 L312.2 467.68 L313.4 467.85 L314.6 468.95 L315.8 468.32 L317 468.87 L318.2 469.75 L319.4 469.86 L320.6 469.24 L321.8 469.71 L323 469.87" fill="none" stroke="#f068c8" stroke-width="1.9" stroke-linejoin="round" stroke-linecap="round" />
<path d="M21.8 484.59 L22.8 484.45 L23.8 484.53 L24.8 484.33 L25.8 484.22 L26.8 484.32 L27.8 484.51 L28.8 484.49 L29.8 484.53 L30.8 484.33 L31.8 484.55 L32.8 484.49 L33.8 484.5 L34.8 484.53 L35.8 484.55 L36.8 484.85 L37.8 484.74 L38.8 484.67 L39.8 484.61 L40.8 484.24 L41.8 484.24 L42.8 484.35 L43.8 484.36 L44.8 484.37 L45.8 484.34 L46.8 483.89 L47.8 484.11 L48.8 484.09 L49.8 484.03 L50.8 483.91 L51.8 484.11 L52.8 483.98 L53.8 484.48 L54.8 484.05 L55.8 483.32 L56.8 482.15 L57.8 480.81 L58.8 478.36 L59.8 475.75 L60.8 472.74 L61.8 469.23 L62.8 465.53 L63.8 462.3 L64.8 459.13 L65.8 455.91 L66.8 452.75 L67.8 449.73 L68.8 446.18 L69.8 443.08 L70.8 440.5 L71.8 437.47 L72.8 434.71 L73.8 431.83 L74.8 428.99 L75.8 426.63 L76.8 423.69 L77.8 421.61 L78.8 419.58 L79.8 418.08 L80.8 416.34 L81.8 414.9 L82.8 413.65 L83.8 411.98 L84.8 410.5 L85.8 408.96 L86.8 406.76 L87.8 404.9 L88.8 403.12 L89.8 401.51 L90.8 399.55 L91.8 397.5 L92.8 395.7 L93.8 393.81 L94.8 392.19 L95.8 390.27 L96.8 388.92 L97.8 387.39 L98.8 385.83 L99.8 384.23 L100.8 383.18 L101.8 381.13 L102.8 380.23 L103.8 379.84 L104.8 378.88 L105.8 378.06 L106.8 378.31 L107.8 378.07 L108.8 378.53 L109.8 378.49 L110.8 378.95 L111.8 379.81 L112.8 380.34 L113.8 381.43 L114.8 382.88 L115.8 383.34 L116.8 384.15 L117.8 385.34 L118.8 386.62 L119.8 388.2 L120.8 388.77 L121.8 389.59 L122.8 390.26 L123.8 391.9 L124.8 392.24 L125.8 392.84 L126.8 393.5 L127.8 394.22 L128.8 394.96 L129.8 395.98 L130.8 395.97 L131.8 396.27 L132.8 397 L133.8 397.08 L134.8 398.03 L135.8 397.51 L136.8 398.13 L137.8 398.62 L138.8 398.57 L139.8 399.37 L140.8 399.25 L141.8 399.38 L142.8 399.86 L143.8 399.85 L144.8 400.56 L145.8 400.8 L146.8 401.83 L147.8 402.13 L148.8 402.21 L149.8 402.23 L150.8 402.91 L151.8 403.39 L152.8 403.89 L153.8 404.46 L154.8 405.69 L155.8 405.75 L156.8 406.42 L157.8 407.98 L158.8 408.48 L159.8 409.74 L160.8 410.16 L161.8 411.64 L162.8 412.57 L163.8 413.95 L164.8 415.26 L165.8 416.41 L166.8 417.4 L167.8 418.81 L168.8 420.59 L169.8 421.71 L170.8 422.78 L171.8 423.28 L172.8 424.56 L173.8 425.66 L174.8 426.48 L175.8 427.7 L176.8 428.52 L177.8 429.7 L178.8 430.79 L179.8 431.47 L180.8 433.11 L181.8 434.18 L182.8 434.22 L183.8 435.81 L184.8 436.56 L185.8 437.05 L186.8 437.23 L187.8 438.71 L188.8 438.71 L189.8 440.32 L190.8 440.92 L191.8 441.21 L192.8 442.11 L193.8 443.3 L194.8 443.98 L195.8 444.85 L196.8 445.65 L197.8 445.62 L198.8 446.03 L199.8 447.46 L200.8 447.25 L201.8 448.65 L202.8 448.59 L203.8 449.85 L204.8 450.47 L205.8 451.19 L206.8 451.54 L207.8 452.48 L208.8 452.51 L209.8 453.57 L210.8 453.89 L211.8 455.01 L212.8 455.51 L213.8 455.84 L214.8 456.49 L215.8 456.64 L216.8 457.26 L217.8 458.38 L218.8 458.91 L219.8 459.87 L220.8 460.25 L221.8 460.42 L222.8 461.19 L223.8 462.11 L224.8 462.36 L225.8 462.3 L226.8 463.39 L227.8 463.65 L228.8 463.17 L229.8 463.7 L230.8 463.64 L231.8 464.16 L232.8 463.94 L233.8 464.12 L234.8 464.67 L235.8 465.48 L236.8 465.09 L237.8 465.52 L238.8 466.33 L239.8 466.9 L240.8 466.9 L241.8 467.17 L242.8 467.89 L243.8 468.16 L244.8 467.85 L245.8 468.95 L246.8 468.69 L247.8 469.12 L248.8 469.94 L249.8 469.87 L250.8 470.52 L251.8 470.25 L252.8 471.27 L253.8 471.04 L254.8 471.4 L255.8 472.1 L256.8 472.34 L257.8 472.89 L258.8 473.58 L259.8 473.66 L260.8 473.25 L261.8 473.74 L262.8 474.17 L263.8 474.31 L264.8 474.72 L265.8 474.7 L266.8 474.54 L267.8 474.91 L268.8 475.66 L269.8 475.42 L270.8 475.98 L271.8 476.36 L272.8 476.21 L273.8 476.41 L274.8 476.49 L275.8 476.36 L276.8 477.02 L277.8 476.73 L278.8 477.23 L279.8 476.76 L280.8 477.42 L281.8 477.51 L282.8 477.51 L283.8 477.51 L284.8 477.38 L285.8 478.09 L286.8 477.87 L287.8 478.21 L288.8 477.78 L289.8 477.79 L290.8 477.91 L291.8 478.57 L292.8 478.06 L293.8 478.77 L294.8 478.35 L295.8 478.58 L296.8 478.43 L297.8 478.73 L298.8 478.3 L299.8 478.63 L300.8 479.16 L301.8 478.58 L302.8 479.11 L303.8 478.93 L304.8 479.02 L305.8 478.88 L306.8 479 L307.8 479.95 L308.8 479.92 L309.8 479.97 L310.8 480.05 L311.8 480.25 L312.8 479.6 L313.8 480.05 L314.8 480.04 L315.8 480.18 L316.8 480.58 L317.8 480.47 L318.8 480.7 L319.8 479.93 L320.8 480.35 L321.8 480.25 L322.8 480.12" fill="none" stroke="#b9b9b9" stroke-width="1.9" stroke-linejoin="round" stroke-linecap="round" />
<line x1="21.8" y1="263.2" x2="323.3" y2="263.2" stroke="#444" stroke-width="1.4" />
<line x1="323.3" y1="263.2" x2="323.3" y2="484.6" stroke="#444" stroke-width="1.4" />
<line x1="377.7" y1="484.4" x2="377.7" y2="488.4" stroke="#333333" stroke-width="1.2" />
<text x="377.7" y="504.2" font-size="16.3" text-anchor="middle" fill="#1a1a1a" >0</text>
<line x1="414.01" y1="484.4" x2="414.01" y2="486.9" stroke="#333333" stroke-width="1.2" />
<line x1="450.32" y1="484.4" x2="450.32" y2="488.4" stroke="#333333" stroke-width="1.2" />
<text x="450.32" y="504.2" font-size="16.3" text-anchor="middle" fill="#1a1a1a" >50</text>
<line x1="486.64" y1="484.4" x2="486.64" y2="486.9" stroke="#333333" stroke-width="1.2" />
<line x1="522.95" y1="484.4" x2="522.95" y2="488.4" stroke="#333333" stroke-width="1.2" />
<text x="522.95" y="504.2" font-size="16.3" text-anchor="middle" fill="#1a1a1a" >100</text>
<line x1="559.26" y1="484.4" x2="559.26" y2="486.9" stroke="#333333" stroke-width="1.2" />
<line x1="595.57" y1="484.4" x2="595.57" y2="488.4" stroke="#333333" stroke-width="1.2" />
<text x="595.57" y="504.2" font-size="16.3" text-anchor="middle" fill="#1a1a1a" >150</text>
<line x1="631.89" y1="484.4" x2="631.89" y2="486.9" stroke="#333333" stroke-width="1.2" />
<line x1="668.2" y1="484.4" x2="668.2" y2="488.4" stroke="#333333" stroke-width="1.2" />
<text x="668.2" y="504.2" font-size="16.3" text-anchor="middle" fill="#1a1a1a" >200</text>
<line x1="377.7" y1="484.4" x2="373.7" y2="484.4" stroke="#333333" stroke-width="1.2" />
<text x="371" y="489.7" font-size="16.3" text-anchor="end" fill="#1a1a1a" >0</text>
<line x1="377.7" y1="462.28" x2="375.4" y2="462.28" stroke="#333333" stroke-width="1.2" />
<line x1="377.7" y1="440.16" x2="373.7" y2="440.16" stroke="#333333" stroke-width="1.2" />
<text x="371" y="445.46" font-size="16.3" text-anchor="end" fill="#1a1a1a" >25</text>
<line x1="377.7" y1="418.04" x2="375.4" y2="418.04" stroke="#333333" stroke-width="1.2" />
<line x1="377.7" y1="395.92" x2="373.7" y2="395.92" stroke="#333333" stroke-width="1.2" />
<text x="371" y="401.22" font-size="16.3" text-anchor="end" fill="#1a1a1a" >50</text>
<line x1="377.7" y1="373.8" x2="375.4" y2="373.8" stroke="#333333" stroke-width="1.2" />
<line x1="377.7" y1="351.68" x2="373.7" y2="351.68" stroke="#333333" stroke-width="1.2" />
<text x="371" y="356.98" font-size="16.3" text-anchor="end" fill="#1a1a1a" >75</text>
<line x1="377.7" y1="329.56" x2="375.4" y2="329.56" stroke="#333333" stroke-width="1.2" />
<line x1="377.7" y1="307.44" x2="373.7" y2="307.44" stroke="#333333" stroke-width="1.2" />
<text x="371" y="312.74" font-size="16.3" text-anchor="end" fill="#1a1a1a" >100</text>
<line x1="377.7" y1="285.32" x2="375.4" y2="285.32" stroke="#333333" stroke-width="1.2" />
<line x1="377.7" y1="263.2" x2="373.7" y2="263.2" stroke="#333333" stroke-width="1.2" />
<text x="371" y="268.5" font-size="16.3" text-anchor="end" fill="#1a1a1a" >125</text>
<text x="530.7" y="522" font-size="16.3" text-anchor="middle" fill="#1a1a1a" >Z' (ohm)</text>
<text x="0" y="0" font-size="16.3" text-anchor="middle" fill="#1a1a1a" transform="translate(342.6 373.9) rotate(-90)">-Zээ (ohm)</text>
<text x="384.5" y="283.3" font-size="16.3" text-anchor="start" fill="#1a1a1a" >(d)</text>
<rect x="377.7" y="263.2" width="304.7" height="221.2" fill="none" stroke="#333333" stroke-width="1.35"/>
<circle cx="419.5" cy="480" r="4.3" fill="url(#gY)"/>
<circle cx="420.47" cy="478.25" r="4.3" fill="url(#gY)"/>
<circle cx="421.45" cy="476.5" r="4.3" fill="url(#gY)"/>
<circle cx="422.42" cy="474.76" r="4.3" fill="url(#gY)"/>
<circle cx="423.38" cy="473" r="4.3" fill="url(#gY)"/>
<circle cx="424.33" cy="471.25" r="4.3" fill="url(#gY)"/>
<circle cx="425.27" cy="469.48" r="4.3" fill="url(#gY)"/>
<circle cx="426.2" cy="467.71" r="4.3" fill="url(#gY)"/>
<circle cx="427.11" cy="465.93" r="4.3" fill="url(#gY)"/>
<circle cx="428.02" cy="464.14" r="4.3" fill="url(#gY)"/>
<circle cx="428.92" cy="462.36" r="4.3" fill="url(#gY)"/>
<circle cx="429.81" cy="460.57" r="4.3" fill="url(#gY)"/>
<circle cx="430.71" cy="458.78" r="4.3" fill="url(#gY)"/>
<circle cx="431.58" cy="456.98" r="4.3" fill="url(#gY)"/>
<circle cx="432.43" cy="455.17" r="4.3" fill="url(#gY)"/>
<circle cx="433.29" cy="453.37" r="4.3" fill="url(#gY)"/>
<circle cx="434.23" cy="451.6" r="4.3" fill="url(#gY)"/>
<circle cx="435.24" cy="449.88" r="4.3" fill="url(#gY)"/>
<circle cx="436.3" cy="448.18" r="4.3" fill="url(#gY)"/>
<circle cx="437.38" cy="446.5" r="4.3" fill="url(#gY)"/>
<circle cx="443" cy="441.2" r="4.3" fill="url(#gY)"/>
<circle cx="449.1" cy="435.4" r="4.3" fill="url(#gY)"/>
<circle cx="456.6" cy="429.9" r="4.3" fill="url(#gY)"/>
<circle cx="465.6" cy="425.9" r="4.3" fill="url(#gY)"/>
<circle cx="475.3" cy="423.7" r="4.3" fill="url(#gY)"/>
<circle cx="485.5" cy="423.4" r="4.3" fill="url(#gY)"/>
<circle cx="494.7" cy="425" r="4.3" fill="url(#gY)"/>
<circle cx="503.1" cy="427.9" r="4.3" fill="url(#gY)"/>
<circle cx="511.8" cy="433.2" r="4.3" fill="url(#gY)"/>
<circle cx="517.6" cy="438.5" r="4.3" fill="url(#gY)"/>
<circle cx="522.8" cy="443.7" r="4.3" fill="url(#gY)"/>
<circle cx="526.9" cy="447.8" r="4.3" fill="url(#gY)"/>
<circle cx="530.4" cy="451.3" r="4.3" fill="url(#gY)"/>
<circle cx="533.9" cy="454.8" r="4.3" fill="url(#gY)"/>
<circle cx="537.4" cy="458.9" r="4.3" fill="url(#gY)"/>
<circle cx="540.9" cy="460.7" r="4.3" fill="url(#gY)"/>
<circle cx="544.5" cy="461.2" r="4.3" fill="url(#gY)"/>
<circle cx="548" cy="459.5" r="4.3" fill="url(#gY)"/>
<circle cx="551.5" cy="456.6" r="4.3" fill="url(#gY)"/>
<circle cx="555.5" cy="453.1" r="4.3" fill="url(#gY)"/>
<circle cx="560.2" cy="447.8" r="4.3" fill="url(#gY)"/>
<circle cx="566.4" cy="440.2" r="4.3" fill="url(#gY)"/>
<circle cx="572.1" cy="429.7" r="4.3" fill="url(#gY)"/>
<circle cx="580.9" cy="415.1" r="4.3" fill="url(#gY)"/>
<circle cx="591.5" cy="396" r="4.3" fill="url(#gY)"/>
<circle cx="608.4" cy="371" r="4.3" fill="url(#gY)"/>
<circle cx="400" cy="480" r="4.3" fill="url(#gG)"/>
<circle cx="401.2" cy="477.25" r="4.3" fill="url(#gG)"/>
<circle cx="402.48" cy="474.54" r="4.3" fill="url(#gG)"/>
<circle cx="404.02" cy="471.97" r="4.3" fill="url(#gG)"/>
<circle cx="405.9" cy="469.63" r="4.3" fill="url(#gG)"/>
<circle cx="407.98" cy="467.47" r="4.3" fill="url(#gG)"/>
<circle cx="410.27" cy="465.53" r="4.3" fill="url(#gG)"/>
<circle cx="412.78" cy="463.9" r="4.3" fill="url(#gG)"/>
<circle cx="415.48" cy="462.59" r="4.3" fill="url(#gG)"/>
<circle cx="418.29" cy="461.53" r="4.3" fill="url(#gG)"/>
<circle cx="421.17" cy="460.69" r="4.3" fill="url(#gG)"/>
<circle cx="424.11" cy="460.12" r="4.3" fill="url(#gG)"/>
<circle cx="427.09" cy="459.75" r="4.3" fill="url(#gG)"/>
<circle cx="430.08" cy="459.5" r="4.3" fill="url(#gG)"/>
<circle cx="433.07" cy="459.37" r="4.3" fill="url(#gG)"/>
<circle cx="436.07" cy="459.39" r="4.3" fill="url(#gG)"/>
<circle cx="439.07" cy="459.47" r="4.3" fill="url(#gG)"/>
<circle cx="442.07" cy="459.59" r="4.3" fill="url(#gG)"/>
<circle cx="445.06" cy="459.81" r="4.3" fill="url(#gG)"/>
<circle cx="448.06" cy="459.98" r="4.3" fill="url(#gG)"/>
<circle cx="451.05" cy="459.96" r="4.3" fill="url(#gG)"/>
<circle cx="454.05" cy="459.73" r="4.3" fill="url(#gG)"/>
<circle cx="457" cy="459.24" r="4.3" fill="url(#gG)"/>
<circle cx="459.88" cy="458.39" r="4.3" fill="url(#gG)"/>
<circle cx="462.62" cy="457.19" r="4.3" fill="url(#gG)"/>
<circle cx="465.31" cy="455.84" r="4.3" fill="url(#gG)"/>
<circle cx="467.92" cy="454.37" r="4.3" fill="url(#gG)"/>
<circle cx="470.5" cy="452.84" r="4.3" fill="url(#gG)"/>
<circle cx="473.14" cy="451.42" r="4.3" fill="url(#gG)"/>
<circle cx="475.85" cy="450.13" r="4.3" fill="url(#gG)"/>
<circle cx="478.54" cy="448.81" r="4.3" fill="url(#gG)"/>
<circle cx="481.14" cy="447.31" r="4.3" fill="url(#gG)"/>
<circle cx="483.67" cy="445.7" r="4.3" fill="url(#gG)"/>
<circle cx="486.05" cy="443.88" r="4.3" fill="url(#gG)"/>
<circle cx="488.13" cy="441.72" r="4.3" fill="url(#gG)"/>
<circle cx="489.87" cy="439.28" r="4.3" fill="url(#gG)"/>
<circle cx="491.5" cy="436.76" r="4.3" fill="url(#gG)"/>
<circle cx="503.1" cy="424.4" r="4.3" fill="url(#gG)"/>
<circle cx="513.7" cy="413.4" r="4.3" fill="url(#gG)"/>
<circle cx="528.4" cy="399.8" r="4.3" fill="url(#gG)"/>
<circle cx="546.5" cy="383.1" r="4.3" fill="url(#gG)"/>
<circle cx="570" cy="364.2" r="4.3" fill="url(#gG)"/>
<circle cx="597.4" cy="343.6" r="4.3" fill="url(#gG)"/>
<circle cx="631.2" cy="318.9" r="4.3" fill="url(#gG)"/>
<circle cx="670.4" cy="291" r="4.3" fill="url(#gG)"/>
<circle cx="400.5" cy="480" r="4.3" fill="url(#gB)"/>
<circle cx="401.41" cy="477.14" r="4.3" fill="url(#gB)"/>
<circle cx="402.42" cy="474.32" r="4.3" fill="url(#gB)"/>
<circle cx="403.74" cy="471.63" r="4.3" fill="url(#gB)"/>
<circle cx="405.38" cy="469.11" r="4.3" fill="url(#gB)"/>
<circle cx="407.21" cy="466.74" r="4.3" fill="url(#gB)"/>
<circle cx="409.17" cy="464.47" r="4.3" fill="url(#gB)"/>
<circle cx="411.38" cy="462.45" r="4.3" fill="url(#gB)"/>
<circle cx="413.89" cy="460.81" r="4.3" fill="url(#gB)"/>
<circle cx="416.55" cy="459.43" r="4.3" fill="url(#gB)"/>
<circle cx="419.32" cy="458.26" r="4.3" fill="url(#gB)"/>
<circle cx="422.15" cy="457.29" r="4.3" fill="url(#gB)"/>
<circle cx="425.05" cy="456.49" r="4.3" fill="url(#gB)"/>
<circle cx="427.98" cy="455.85" r="4.3" fill="url(#gB)"/>
<circle cx="430.94" cy="455.38" r="4.3" fill="url(#gB)"/>
<circle cx="433.93" cy="455.14" r="4.3" fill="url(#gB)"/>
<circle cx="436.93" cy="455.05" r="4.3" fill="url(#gB)"/>
<circle cx="439.93" cy="455" r="4.3" fill="url(#gB)"/>
<circle cx="442.93" cy="454.99" r="4.3" fill="url(#gB)"/>
<circle cx="445.92" cy="455.04" r="4.3" fill="url(#gB)"/>
<circle cx="448.92" cy="455.04" r="4.3" fill="url(#gB)"/>
<circle cx="451.92" cy="454.86" r="4.3" fill="url(#gB)"/>
<circle cx="454.9" cy="454.52" r="4.3" fill="url(#gB)"/>
<circle cx="457.86" cy="454.03" r="4.3" fill="url(#gB)"/>
<circle cx="460.76" cy="453.29" r="4.3" fill="url(#gB)"/>
<circle cx="463.61" cy="452.34" r="4.3" fill="url(#gB)"/>
<circle cx="466.41" cy="451.28" r="4.3" fill="url(#gB)"/>
<circle cx="474.2" cy="447.6" r="4.3" fill="url(#gB)"/>
<circle cx="480" cy="444.3" r="4.3" fill="url(#gB)"/>
<circle cx="485.9" cy="440.3" r="4.3" fill="url(#gB)"/>
<circle cx="492.6" cy="434.7" r="4.3" fill="url(#gB)"/>
<circle cx="502.1" cy="428.5" r="4.3" fill="url(#gB)"/>
<circle cx="511.6" cy="420.4" r="4.3" fill="url(#gB)"/>
<circle cx="523.1" cy="410.8" r="4.3" fill="url(#gB)"/>
<circle cx="538.9" cy="398.6" r="4.3" fill="url(#gB)"/>
<circle cx="556.3" cy="382.9" r="4.3" fill="url(#gB)"/>
<circle cx="577.9" cy="364.2" r="4.3" fill="url(#gB)"/>
<circle cx="602.5" cy="341.2" r="4.3" fill="url(#gB)"/>
<circle cx="634.3" cy="313.1" r="4.3" fill="url(#gB)"/>
<circle cx="670.8" cy="279.7" r="4.3" fill="url(#gB)"/>
<circle cx="402.5" cy="480" r="4.3" fill="url(#gP)"/>
<circle cx="403.32" cy="477.53" r="4.3" fill="url(#gP)"/>
<circle cx="404.22" cy="475.09" r="4.3" fill="url(#gP)"/>
<circle cx="405.45" cy="472.81" r="4.3" fill="url(#gP)"/>
<circle cx="407.12" cy="470.82" r="4.3" fill="url(#gP)"/>
<circle cx="409.21" cy="469.29" r="4.3" fill="url(#gP)"/>
<circle cx="411.63" cy="468.37" r="4.3" fill="url(#gP)"/>
<circle cx="414.18" cy="467.84" r="4.3" fill="url(#gP)"/>
<circle cx="416.75" cy="467.47" r="4.3" fill="url(#gP)"/>
<circle cx="419.34" cy="467.29" r="4.3" fill="url(#gP)"/>
<circle cx="421.94" cy="467.3" r="4.3" fill="url(#gP)"/>
<circle cx="424.53" cy="467.52" r="4.3" fill="url(#gP)"/>
<circle cx="427.11" cy="467.89" r="4.3" fill="url(#gP)"/>
<circle cx="429.68" cy="468.26" r="4.3" fill="url(#gP)"/>
<circle cx="432.23" cy="468.73" r="4.3" fill="url(#gP)"/>
<circle cx="434.79" cy="469.14" r="4.3" fill="url(#gP)"/>
<circle cx="437.3" cy="468.52" r="4.3" fill="url(#gP)"/>
<circle cx="439.52" cy="467.18" r="4.3" fill="url(#gP)"/>
<circle cx="441.63" cy="465.66" r="4.3" fill="url(#gP)"/>
<circle cx="443.74" cy="464.14" r="4.3" fill="url(#gP)"/>
<circle cx="445.78" cy="462.53" r="4.3" fill="url(#gP)"/>
<circle cx="447.79" cy="460.89" r="4.3" fill="url(#gP)"/>
<circle cx="449.78" cy="459.21" r="4.3" fill="url(#gP)"/>
<circle cx="451.74" cy="457.5" r="4.3" fill="url(#gP)"/>
<circle cx="457.4" cy="453.1" r="4.3" fill="url(#gP)"/>
<circle cx="462.5" cy="449.1" r="4.3" fill="url(#gP)"/>
<circle cx="468.4" cy="445.1" r="4.3" fill="url(#gP)"/>
<circle cx="475.3" cy="439.2" r="4.3" fill="url(#gP)"/>
<circle cx="483" cy="433" r="4.3" fill="url(#gP)"/>
<circle cx="492.9" cy="425" r="4.3" fill="url(#gP)"/>
<circle cx="504" cy="414.8" r="4.3" fill="url(#gP)"/>
<circle cx="517.8" cy="401.8" r="4.3" fill="url(#gP)"/>
<circle cx="534.7" cy="384.9" r="4.3" fill="url(#gP)"/>
<circle cx="554.9" cy="363.5" r="4.3" fill="url(#gP)"/>
<circle cx="581" cy="337.4" r="4.3" fill="url(#gP)"/>
<circle cx="612.6" cy="306" r="4.3" fill="url(#gP)"/>
<line x1="377.7" y1="484.4" x2="682.4" y2="484.4" stroke="#333333" stroke-width="1.2" />
<line x1="210.4" y1="756.8" x2="210.4" y2="760.8" stroke="#333333" stroke-width="1.2" />
<text x="210.4" y="776.8" font-size="16.3" text-anchor="middle" fill="#1a1a1a" >0</text>
<line x1="240.38" y1="756.8" x2="240.38" y2="759.3" stroke="#333333" stroke-width="1.2" />
<line x1="270.36" y1="756.8" x2="270.36" y2="760.8" stroke="#333333" stroke-width="1.2" />
<text x="270.36" y="776.8" font-size="16.3" text-anchor="middle" fill="#1a1a1a" >50</text>
<line x1="300.34" y1="756.8" x2="300.34" y2="759.3" stroke="#333333" stroke-width="1.2" />
<line x1="330.32" y1="756.8" x2="330.32" y2="760.8" stroke="#333333" stroke-width="1.2" />
<text x="330.32" y="776.8" font-size="16.3" text-anchor="middle" fill="#1a1a1a" >100</text>
<line x1="360.3" y1="756.8" x2="360.3" y2="759.3" stroke="#333333" stroke-width="1.2" />
<line x1="390.28" y1="756.8" x2="390.28" y2="760.8" stroke="#333333" stroke-width="1.2" />
<text x="390.28" y="776.8" font-size="16.3" text-anchor="middle" fill="#1a1a1a" >150</text>
<line x1="420.26" y1="756.8" x2="420.26" y2="759.3" stroke="#333333" stroke-width="1.2" />
<line x1="450.24" y1="756.8" x2="450.24" y2="760.8" stroke="#333333" stroke-width="1.2" />
<text x="450.24" y="776.8" font-size="16.3" text-anchor="middle" fill="#1a1a1a" >200</text>
<line x1="480.22" y1="756.8" x2="480.22" y2="759.3" stroke="#333333" stroke-width="1.2" />
<line x1="510.2" y1="756.8" x2="510.2" y2="760.8" stroke="#333333" stroke-width="1.2" />
<text x="510.2" y="776.8" font-size="16.3" text-anchor="middle" fill="#1a1a1a" >250</text>
<line x1="210.4" y1="748.3" x2="206.4" y2="748.3" stroke="#333333" stroke-width="1.2" />
<text x="203.3" y="753.6" font-size="16.3" text-anchor="end" fill="#1a1a1a" >0.0000</text>
<line x1="210.4" y1="721.78" x2="208.1" y2="721.78" stroke="#333333" stroke-width="1.2" />
<line x1="210.4" y1="695.27" x2="206.4" y2="695.27" stroke="#333333" stroke-width="1.2" />
<text x="203.3" y="700.57" font-size="16.3" text-anchor="end" fill="#1a1a1a" >0.0003</text>
<line x1="210.4" y1="668.75" x2="208.1" y2="668.75" stroke="#333333" stroke-width="1.2" />
<line x1="210.4" y1="642.24" x2="206.4" y2="642.24" stroke="#333333" stroke-width="1.2" />
<text x="203.3" y="647.54" font-size="16.3" text-anchor="end" fill="#1a1a1a" >0.0006</text>
<line x1="210.4" y1="615.72" x2="208.1" y2="615.72" stroke="#333333" stroke-width="1.2" />
<line x1="210.4" y1="589.21" x2="206.4" y2="589.21" stroke="#333333" stroke-width="1.2" />
<text x="203.3" y="594.51" font-size="16.3" text-anchor="end" fill="#1a1a1a" >0.0009</text>
<line x1="210.4" y1="562.69" x2="208.1" y2="562.69" stroke="#333333" stroke-width="1.2" />
<line x1="210.4" y1="536.18" x2="206.4" y2="536.18" stroke="#333333" stroke-width="1.2" />
<text x="203.3" y="541.48" font-size="16.3" text-anchor="end" fill="#1a1a1a" >0.0012</text>
<text x="360.7" y="792.9" font-size="16.3" text-anchor="middle" fill="#1a1a1a" >Time (s)</text>
<text x="0" y="0" font-size="16.3" text-anchor="middle" fill="#1a1a1a" transform="translate(155.3 631.2) rotate(-90)">Photocurrent density (mA/cm<tspan font-size="11" dy="-7">2</tspan><tspan dy="7">)</tspan></text>
<text x="214.2" y="552.7" font-size="16.3" text-anchor="start" fill="#1a1a1a" >(e)</text>
<line x1="210.4" y1="748.3" x2="510.2" y2="748.3" stroke="#f068c8" stroke-width="2.8" />
<path d="M211.4 612 L211.43 613.11 L211.46 614.63 L211.51 616.44 L211.56 618.44 L211.61 620.5 L211.67 622.52 L211.73 624.39 L211.8 626 L211.87 627.39 L211.95 628.68 L212.03 629.9 L212.11 631.03 L212.2 632.1 L212.3 633.11 L212.4 634.08 L212.5 635 L212.6 635.86 L212.71 636.64 L212.81 637.36 L212.92 638.03 L213.04 638.66 L213.17 639.28 L213.33 639.88 L213.5 640.5 L213.7 641.11 L213.92 641.7 L214.15 642.27 L214.41 642.83 L214.67 643.38 L214.94 643.92 L215.22 644.46 L215.5 645 L215.78 645.53 L216.05 646.05 L216.32 646.57 L216.61 647.07 L216.91 647.59 L217.24 648.11 L217.6 648.64 L218 649.2 L218.48 649.81 L219.05 650.49 L219.67 651.2 L220.31 651.91 L220.92 652.59 L221.49 653.2 L221.96 653.72 L222.3 654.1 L222.39 654.84 L222.51 655.79 L222.65 656.92 L222.81 658.19 L222.98 659.57 L223.15 661.03 L223.33 662.51 L223.5 664 L223.67 665.56 L223.85 667.26 L224.04 669.05 L224.23 670.89 L224.42 672.72 L224.62 674.5 L224.81 676.17 L225 677.7 L225.19 679.09 L225.38 680.39 L225.56 681.61 L225.75 682.77 L225.94 683.87 L226.12 684.94 L226.31 685.98 L226.5 687 L226.68 687.99 L226.86 688.94 L227.04 689.84 L227.22 690.71 L227.4 691.55 L227.59 692.37 L227.79 693.19 L228 694 L228.22 694.8 L228.45 695.58 L228.68 696.35 L228.92 697.1 L229.18 697.84 L229.44 698.57 L229.71 699.29 L230 700 L230.29 700.73 L230.57 701.49 L230.86 702.26 L231.17 703.01 L231.5 703.72 L231.85 704.37 L232.25 704.93 L232.7 705.4 L233.19 705.74 L233.7 705.98 L234.25 706.13 L234.84 706.22 L235.46 706.28 L236.13 706.33 L236.84 706.4 L237.6 706.5 L238.48 706.64 L239.51 706.78 L240.62 706.93 L241.76 707.07 L242.85 707.2 L243.85 707.32 L244.69 707.42 L245.3 707.5 L245.37 705.87 L245.46 703.68 L245.56 701.08 L245.68 698.2 L245.81 695.17 L245.94 692.12 L246.07 689.18 L246.2 686.5 L246.33 683.93 L246.45 681.28 L246.58 678.62 L246.72 676.01 L246.86 673.51 L247 671.19 L247.15 669.09 L247.3 667.3 L247.46 665.83 L247.63 664.63 L247.8 663.67 L247.98 662.88 L248.15 662.21 L248.34 661.63 L248.52 661.07 L248.7 660.5 L248.89 659.94 L249.1 659.45 L249.32 659.03 L249.54 658.67 L249.74 658.37 L249.93 658.11 L250.08 657.89 L250.2 657.7 L250.55 658.05 L251.01 658.52 L251.56 659.08 L252.17 659.7 L252.81 660.35 L253.47 661 L254.11 661.63 L254.7 662.2 L255.26 662.73 L255.82 663.25 L256.39 663.77 L256.95 664.28 L257.51 664.77 L258.07 665.26 L258.64 665.74 L259.2 666.2 L259.75 666.65 L260.28 667.07 L260.81 667.48 L261.34 667.89 L261.88 668.29 L262.45 668.68 L263.05 669.09 L263.7 669.5 L264.44 669.94 L265.3 670.42 L266.21 670.92 L267.13 671.41 L268.02 671.87 L268.83 672.29 L269.5 672.64 L270 672.9 L270.08 673.48 L270.18 674.21 L270.31 675.08 L270.44 676.07 L270.6 677.15 L270.76 678.32 L270.93 679.54 L271.1 680.8 L271.28 682.17 L271.47 683.68 L271.67 685.3 L271.88 686.98 L272.1 688.67 L272.33 690.31 L272.56 691.87 L272.8 693.3 L273.04 694.59 L273.29 695.79 L273.54 696.93 L273.79 698.01 L274.07 699.07 L274.35 700.12 L274.66 701.19 L275 702.3 L275.37 703.46 L275.77 704.68 L276.19 705.91 L276.62 707.13 L277.07 708.32 L277.52 709.45 L277.97 710.48 L278.4 711.4 L278.81 712.21 L279.2 712.94 L279.57 713.6 L279.96 714.19 L280.36 714.71 L280.79 715.16 L281.26 715.56 L281.8 715.9 L282.4 716.17 L283.04 716.36 L283.73 716.48 L284.44 716.54 L285.19 716.55 L285.95 716.52 L286.72 716.47 L287.5 716.4 L288.34 716.28 L289.26 716.09 L290.23 715.85 L291.21 715.58 L292.13 715.31 L292.97 715.06 L293.68 714.85 L294.2 714.7 L294.29 712.69 L294.4 709.9 L294.54 706.57 L294.69 702.94 L294.86 699.22 L295.04 695.65 L295.22 692.47 L295.4 689.9 L295.59 687.88 L295.78 686.16 L295.98 684.71 L296.19 683.46 L296.4 682.39 L296.63 681.43 L296.86 680.55 L297.1 679.7 L297.37 678.93 L297.67 678.29 L297.99 677.78 L298.31 677.36 L298.61 677.03 L298.89 676.75 L299.13 676.52 L299.3 676.3 L299.96 676.62 L300.83 677.03 L301.85 677.53 L303.01 678.08 L304.24 678.67 L305.51 679.29 L306.78 679.9 L308 680.5 L309.28 681.13 L310.7 681.83 L312.2 682.57 L313.69 683.31 L315.12 684.02 L316.41 684.66 L317.49 685.2 L318.3 685.6 L318.39 686.08 L318.51 686.68 L318.65 687.4 L318.81 688.22 L318.98 689.11 L319.15 690.07 L319.33 691.07 L319.5 692.1 L319.67 693.19 L319.83 694.37 L320 695.63 L320.17 696.93 L320.35 698.26 L320.55 699.6 L320.76 700.92 L321 702.2 L321.26 703.48 L321.53 704.78 L321.82 706.09 L322.12 707.39 L322.45 708.67 L322.78 709.91 L323.13 711.09 L323.5 712.2 L323.88 713.26 L324.27 714.29 L324.67 715.29 L325.09 716.23 L325.53 717.11 L325.99 717.91 L326.48 718.61 L327 719.2 L327.55 719.67 L328.14 720.02 L328.76 720.28 L329.39 720.45 L330.05 720.56 L330.72 720.63 L331.41 720.67 L332.1 720.7 L332.82 720.69 L333.58 720.62 L334.37 720.49 L335.17 720.34 L335.96 720.16 L336.72 719.99 L337.44 719.83 L338.1 719.7 L338.72 719.59 L339.33 719.49 L339.92 719.38 L340.48 719.29 L340.98 719.2 L341.43 719.12 L341.81 719.05 L342.1 719 L342.12 717.99 L342.13 716.61 L342.15 714.97 L342.18 713.16 L342.21 711.28 L342.25 709.43 L342.32 707.71 L342.4 706.2 L342.5 704.87 L342.63 703.59 L342.77 702.38 L342.92 701.22 L343.09 700.12 L343.26 699.09 L343.43 698.11 L343.6 697.2 L343.76 696.36 L343.9 695.6 L344.03 694.91 L344.18 694.28 L344.34 693.69 L344.54 693.14 L344.79 692.61 L345.1 692.1 L345.51 691.6 L346.02 691.13 L346.59 690.69 L347.19 690.28 L347.78 689.91 L348.32 689.59 L348.77 689.32 L349.1 689.1 L349.53 689.2 L350.06 689.32 L350.69 689.46 L351.41 689.63 L352.21 689.83 L353.1 690.05 L354.06 690.31 L355.1 690.6 L356.32 690.97 L357.78 691.42 L359.38 691.92 L361.03 692.44 L362.63 692.96 L364.09 693.42 L365.31 693.82 L366.2 694.1 L366.27 694.54 L366.36 695.1 L366.46 695.77 L366.57 696.52 L366.71 697.36 L366.86 698.26 L367.02 699.21 L367.2 700.2 L367.4 701.28 L367.61 702.47 L367.83 703.75 L368.07 705.08 L368.33 706.43 L368.61 707.75 L368.9 709.02 L369.2 710.2 L369.53 711.32 L369.88 712.42 L370.26 713.5 L370.65 714.54 L371.05 715.54 L371.44 716.49 L371.83 717.38 L372.2 718.2 L372.57 718.95 L372.94 719.65 L373.32 720.3 L373.69 720.89 L374.05 721.42 L374.4 721.9 L374.71 722.33 L375 722.7 L375.22 723.01 L375.37 723.24 L375.48 723.41 L375.58 723.54 L375.7 723.62 L375.87 723.67 L376.13 723.69 L376.5 723.7 L376.97 723.68 L377.52 723.63 L378.13 723.53 L378.8 723.41 L379.53 723.27 L380.31 723.12 L381.13 722.96 L382 722.8 L382.99 722.62 L384.15 722.41 L385.41 722.18 L386.69 721.94 L387.93 721.71 L389.06 721.5 L390.01 721.33 L390.7 721.2 L390.71 720.44 L390.71 719.4 L390.72 718.15 L390.73 716.79 L390.75 715.37 L390.78 713.99 L390.83 712.7 L390.9 711.6 L391 710.66 L391.11 709.79 L391.25 708.99 L391.4 708.23 L391.56 707.51 L391.71 706.81 L391.86 706.11 L392 705.4 L392.13 704.67 L392.25 703.92 L392.36 703.17 L392.48 702.44 L392.59 701.75 L392.72 701.12 L392.85 700.56 L393 700.1 L393.13 699.74 L393.23 699.49 L393.31 699.31 L393.42 699.19 L393.56 699.1 L393.78 699.02 L394.08 698.93 L394.5 698.8 L395.1 698.65 L395.89 698.49 L396.79 698.32 L397.74 698.17 L398.69 698.02 L399.56 697.89 L400.28 697.78 L400.8 697.7 L401.34 697.77 L402.07 697.85 L402.93 697.95 L403.89 698.06 L404.9 698.18 L405.91 698.31 L406.9 698.45 L407.8 698.6 L408.69 698.77 L409.63 698.97 L410.59 699.18 L411.54 699.41 L412.43 699.62 L413.22 699.82 L413.89 699.98 L414.4 700.1 L414.41 700.85 L414.4 701.84 L414.4 703.03 L414.4 704.34 L414.41 705.74 L414.45 707.15 L414.51 708.52 L414.6 709.8 L414.73 711.05 L414.89 712.35 L415.07 713.67 L415.27 714.98 L415.49 716.25 L415.73 717.45 L415.96 718.54 L416.2 719.5 L416.45 720.32 L416.71 721.04 L416.99 721.66 L417.27 722.2 L417.56 722.68 L417.84 723.11 L418.13 723.52 L418.4 723.9 L418.65 724.26 L418.89 724.57 L419.11 724.84 L419.34 725.07 L419.58 725.26 L419.84 725.41 L420.15 725.52 L420.5 725.6 L420.89 725.63 L421.29 725.61 L421.72 725.54 L422.19 725.43 L422.69 725.3 L423.24 725.17 L423.84 725.03 L424.5 724.9 L425.24 724.77 L426.07 724.63 L426.96 724.48 L427.89 724.32 L428.84 724.16 L429.79 724 L430.72 723.85 L431.6 723.7 L432.49 723.55 L433.44 723.39 L434.4 723.23 L435.34 723.08 L436.23 722.93 L437.03 722.8 L437.69 722.68 L438.2 722.6 L438.22 722.15 L438.25 721.56 L438.28 720.85 L438.31 720.06 L438.36 719.22 L438.42 718.38 L438.5 717.56 L438.6 716.8 L438.72 716.05 L438.87 715.27 L439.03 714.47 L439.2 713.68 L439.39 712.93 L439.58 712.23 L439.79 711.61 L440 711.1 L440.21 710.71 L440.43 710.43 L440.66 710.23 L440.9 710.09 L441.15 709.98 L441.42 709.88 L441.7 709.76 L442 709.6 L442.33 709.42 L442.68 709.26 L443.06 709.1 L443.44 708.94 L443.84 708.77 L444.23 708.57 L444.62 708.35 L445 708.1 L445.35 707.79 L445.66 707.43 L445.96 707.04 L446.27 706.62 L446.6 706.22 L446.97 705.83 L447.39 705.49 L447.9 705.2 L448.53 704.97 L449.3 704.77 L450.15 704.61 L451.03 704.47 L451.89 704.35 L452.67 704.26 L453.32 704.17 L453.8 704.1 L454.45 704.11 L455.37 704.07 L456.46 704.03 L457.65 704 L458.84 704.02 L459.96 704.13 L460.91 704.34 L461.6 704.7 L462.04 705.27 L462.31 706.04 L462.45 706.96 L462.49 707.94 L462.47 708.91 L462.42 709.81 L462.39 710.57 L462.4 711.1 L462.41 711.73 L462.42 712.61 L462.43 713.66 L462.44 714.81 L462.46 715.98 L462.49 717.1 L462.54 718.1 L462.6 718.9 L462.69 719.5 L462.81 719.95 L462.94 720.32 L463.08 720.61 L463.23 720.88 L463.37 721.16 L463.49 721.49 L463.6 721.9 L463.67 722.4 L463.7 722.97 L463.72 723.58 L463.73 724.2 L463.76 724.81 L463.82 725.38 L463.93 725.88 L464.1 726.3 L464.33 726.64 L464.6 726.94 L464.9 727.19 L465.24 727.39 L465.62 727.55 L466.04 727.65 L466.5 727.7 L467 727.7 L467.5 727.62 L467.97 727.47 L468.46 727.26 L468.99 726.99 L469.62 726.7 L470.37 726.39 L471.29 726.09 L472.4 725.8 L473.85 725.5 L475.66 725.16 L477.7 724.8 L479.84 724.43 L481.93 724.08 L483.84 723.76 L485.44 723.5 L486.6 723.3 L486.6 723.06 L486.59 722.76 L486.57 722.41 L486.56 722 L486.56 721.54 L486.58 721.04 L486.62 720.49 L486.7 719.9 L486.81 719.2 L486.95 718.38 L487.11 717.46 L487.29 716.52 L487.48 715.61 L487.68 714.76 L487.89 714.04 L488.1 713.5 L488.33 713.14 L488.58 712.93 L488.86 712.82 L489.14 712.8 L489.4 712.83 L489.65 712.87 L489.85 712.91 L490 712.9 L490.75 713.06 L491.75 713.29 L492.93 713.56 L494.25 713.85 L495.65 714.14 L497.08 714.41 L498.48 714.64 L499.8 714.8 L501.14 714.89 L502.6 714.93 L504.11 714.94 L505.61 714.92 L507.04 714.88 L508.32 714.84 L509.39 714.81 L510.2 714.8" fill="none" stroke="#b9b9b9" stroke-width="2.0" stroke-linejoin="round" stroke-linecap="round" />
<path d="M211.4 546.3 L211.41 549.39 L211.43 553.62 L211.45 558.67 L211.47 564.21 L211.5 569.94 L211.53 575.52 L211.56 580.65 L211.6 585 L211.64 588.7 L211.68 592.11 L211.73 595.26 L211.78 598.17 L211.83 600.87 L211.88 603.39 L211.94 605.76 L212 608 L212.06 610.07 L212.13 611.91 L212.2 613.57 L212.27 615.06 L212.34 616.42 L212.42 617.68 L212.51 618.86 L212.6 620 L212.69 621.05 L212.79 621.97 L212.89 622.78 L212.99 623.5 L213.11 624.16 L213.23 624.78 L213.36 625.39 L213.5 626 L213.65 626.6 L213.8 627.15 L213.95 627.67 L214.12 628.16 L214.3 628.62 L214.51 629.08 L214.74 629.54 L215 630 L215.29 630.46 L215.61 630.89 L215.96 631.31 L216.33 631.73 L216.71 632.15 L217.12 632.58 L217.55 633.03 L218 633.5 L218.5 634.03 L219.08 634.62 L219.71 635.24 L220.34 635.87 L220.95 636.47 L221.5 637.01 L221.96 637.46 L222.3 637.8 L222.39 638.75 L222.51 640.02 L222.64 641.53 L222.8 643.21 L222.97 644.98 L223.14 646.75 L223.32 648.45 L223.5 650 L223.68 651.44 L223.86 652.86 L224.06 654.26 L224.26 655.64 L224.46 657 L224.67 658.35 L224.88 659.68 L225.1 661 L225.32 662.31 L225.55 663.62 L225.79 664.91 L226.02 666.19 L226.27 667.44 L226.51 668.66 L226.76 669.85 L227 671 L227.24 672.11 L227.48 673.18 L227.72 674.21 L227.96 675.22 L228.21 676.2 L228.46 677.15 L228.73 678.09 L229 679 L229.29 679.9 L229.59 680.8 L229.9 681.68 L230.22 682.53 L230.54 683.35 L230.86 684.12 L231.18 684.84 L231.5 685.5 L231.81 686.09 L232.11 686.63 L232.42 687.12 L232.72 687.56 L233.03 687.97 L233.34 688.34 L233.66 688.68 L234 689 L234.34 689.29 L234.69 689.55 L235.04 689.77 L235.41 689.96 L235.78 690.12 L236.17 690.26 L236.57 690.39 L237 690.5 L237.45 690.59 L237.92 690.64 L238.41 690.67 L238.91 690.67 L239.43 690.67 L239.95 690.67 L240.47 690.68 L241 690.7 L241.56 690.73 L242.18 690.78 L242.81 690.82 L243.45 690.86 L244.05 690.91 L244.6 690.94 L245.06 690.98 L245.4 691 L245.46 689.83 L245.52 688.33 L245.6 686.55 L245.69 684.54 L245.8 682.34 L245.92 679.99 L246.05 677.53 L246.2 675 L246.37 672.21 L246.58 669.02 L246.8 665.59 L247.03 662.08 L247.27 658.63 L247.5 655.42 L247.71 652.59 L247.9 650.3 L248.07 648.57 L248.21 647.25 L248.35 646.26 L248.48 645.53 L248.61 644.97 L248.73 644.5 L248.86 644.04 L249 643.5 L249.15 642.94 L249.32 642.45 L249.5 642.03 L249.67 641.67 L249.83 641.37 L249.98 641.11 L250.11 640.89 L250.2 640.7 L250.55 641.01 L251.01 641.42 L251.56 641.91 L252.17 642.46 L252.81 643.03 L253.47 643.61 L254.11 644.18 L254.7 644.7 L255.26 645.2 L255.82 645.69 L256.39 646.19 L256.95 646.69 L257.51 647.18 L258.07 647.66 L258.64 648.14 L259.2 648.6 L259.75 649.05 L260.28 649.49 L260.81 649.93 L261.34 650.36 L261.88 650.78 L262.45 651.19 L263.05 651.6 L263.7 652 L264.44 652.41 L265.3 652.85 L266.21 653.29 L267.13 653.71 L268.02 654.11 L268.83 654.47 L269.5 654.77 L270 655 L270.08 655.96 L270.18 657.23 L270.31 658.76 L270.44 660.44 L270.6 662.22 L270.76 664.01 L270.93 665.73 L271.1 667.3 L271.28 668.78 L271.47 670.25 L271.67 671.71 L271.88 673.16 L272.1 674.57 L272.33 675.96 L272.56 677.3 L272.8 678.6 L273.04 679.84 L273.29 681.04 L273.54 682.19 L273.79 683.31 L274.07 684.41 L274.35 685.48 L274.66 686.54 L275 687.6 L275.37 688.67 L275.77 689.76 L276.19 690.84 L276.62 691.9 L277.07 692.92 L277.52 693.87 L277.97 694.74 L278.4 695.5 L278.81 696.16 L279.2 696.75 L279.57 697.26 L279.96 697.71 L280.36 698.09 L280.79 698.41 L281.26 698.68 L281.8 698.9 L282.4 699.05 L283.04 699.12 L283.73 699.13 L284.44 699.08 L285.19 699 L285.95 698.9 L286.72 698.79 L287.5 698.7 L288.34 698.6 L289.26 698.46 L290.23 698.31 L291.21 698.14 L292.13 697.97 L292.97 697.82 L293.68 697.69 L294.2 697.6 L294.29 695.8 L294.4 693.34 L294.54 690.4 L294.69 687.17 L294.86 683.85 L295.04 680.62 L295.22 677.67 L295.4 675.2 L295.59 673.11 L295.78 671.2 L295.98 669.45 L296.19 667.85 L296.4 666.4 L296.63 665.07 L296.86 663.88 L297.1 662.8 L297.37 661.87 L297.67 661.12 L297.99 660.51 L298.31 660.02 L298.61 659.64 L298.89 659.32 L299.13 659.05 L299.3 658.8 L299.96 659.12 L300.83 659.55 L301.85 660.05 L303.01 660.62 L304.24 661.22 L305.51 661.83 L306.78 662.43 L308 663 L309.28 663.58 L310.7 664.21 L312.2 664.86 L313.69 665.51 L315.12 666.13 L316.41 666.68 L317.49 667.15 L318.3 667.5 L318.39 668.41 L318.51 669.62 L318.65 671.07 L318.81 672.67 L318.98 674.36 L319.15 676.04 L319.33 677.65 L319.5 679.1 L319.67 680.44 L319.83 681.76 L320 683.05 L320.17 684.32 L320.35 685.56 L320.55 686.77 L320.76 687.95 L321 689.1 L321.26 690.23 L321.53 691.34 L321.82 692.42 L322.12 693.48 L322.45 694.49 L322.78 695.45 L323.13 696.36 L323.5 697.2 L323.88 697.99 L324.27 698.74 L324.67 699.44 L325.09 700.09 L325.53 700.68 L325.99 701.2 L326.48 701.64 L327 702 L327.55 702.25 L328.14 702.39 L328.76 702.44 L329.39 702.43 L330.05 702.38 L330.72 702.31 L331.41 702.24 L332.1 702.2 L332.82 702.17 L333.58 702.14 L334.37 702.09 L335.17 702.03 L335.96 701.95 L336.72 701.88 L337.44 701.79 L338.1 701.7 L338.72 701.59 L339.33 701.46 L339.92 701.32 L340.48 701.17 L340.98 701.02 L341.43 700.89 L341.81 700.78 L342.1 700.7 L342.14 699.7 L342.18 698.35 L342.23 696.74 L342.29 694.96 L342.35 693.12 L342.43 691.29 L342.51 689.59 L342.6 688.1 L342.7 686.78 L342.8 685.5 L342.92 684.29 L343.04 683.12 L343.17 682.02 L343.3 680.98 L343.45 680.01 L343.6 679.1 L343.75 678.27 L343.88 677.51 L344.02 676.82 L344.16 676.19 L344.33 675.62 L344.54 675.08 L344.79 674.58 L345.1 674.1 L345.51 673.65 L346.02 673.24 L346.59 672.87 L347.19 672.54 L347.78 672.24 L348.32 671.99 L348.77 671.78 L349.1 671.6 L349.53 671.75 L350.06 671.94 L350.69 672.17 L351.41 672.43 L352.21 672.71 L353.1 673 L354.06 673.3 L355.1 673.6 L356.32 673.92 L357.78 674.29 L359.38 674.68 L361.03 675.07 L362.63 675.45 L364.09 675.8 L365.31 676.09 L366.2 676.3 L366.27 677.4 L366.36 678.91 L366.46 680.71 L366.57 682.69 L366.71 684.74 L366.86 686.73 L367.02 688.55 L367.2 690.1 L367.4 691.4 L367.61 692.58 L367.83 693.65 L368.07 694.64 L368.33 695.57 L368.61 696.46 L368.9 697.33 L369.2 698.2 L369.53 699.08 L369.87 699.94 L370.24 700.78 L370.62 701.58 L371.01 702.34 L371.41 703.03 L371.8 703.66 L372.2 704.2 L372.58 704.66 L372.93 705.06 L373.27 705.38 L373.63 705.65 L374.01 705.86 L374.44 706.02 L374.93 706.13 L375.5 706.2 L376.15 706.2 L376.85 706.13 L377.62 705.99 L378.43 705.81 L379.28 705.6 L380.16 705.38 L381.07 705.18 L382 705 L383.02 704.83 L384.18 704.65 L385.41 704.46 L386.66 704.27 L387.85 704.1 L388.93 703.94 L389.83 703.8 L390.5 703.7 L390.52 702.93 L390.53 701.88 L390.55 700.62 L390.58 699.24 L390.61 697.81 L390.65 696.41 L390.72 695.11 L390.8 694 L390.91 693.04 L391.04 692.16 L391.2 691.34 L391.36 690.56 L391.53 689.83 L391.7 689.13 L391.86 688.46 L392 687.8 L392.12 687.16 L392.24 686.54 L392.34 685.96 L392.44 685.4 L392.55 684.88 L392.65 684.38 L392.77 683.92 L392.9 683.5 L393.01 683.12 L393.07 682.79 L393.13 682.49 L393.19 682.23 L393.31 681.98 L393.49 681.75 L393.78 681.53 L394.2 681.3 L394.82 681.07 L395.63 680.84 L396.58 680.62 L397.58 680.41 L398.58 680.22 L399.49 680.05 L400.25 679.91 L400.8 679.8 L401.34 679.88 L402.07 679.97 L402.93 680.09 L403.89 680.22 L404.9 680.36 L405.91 680.51 L406.9 680.65 L407.8 680.8 L408.69 680.96 L409.63 681.13 L410.59 681.32 L411.54 681.51 L412.43 681.69 L413.22 681.86 L413.89 682 L414.4 682.1 L414.41 683.09 L414.41 684.47 L414.42 686.13 L414.42 687.93 L414.44 689.74 L414.47 691.44 L414.53 692.9 L414.6 694 L414.7 694.7 L414.84 695.1 L414.99 695.3 L415.16 695.38 L415.34 695.4 L415.5 695.46 L415.66 695.63 L415.8 696 L415.91 696.56 L416 697.24 L416.09 697.99 L416.16 698.8 L416.24 699.63 L416.34 700.44 L416.45 701.21 L416.6 701.9 L416.78 702.54 L416.98 703.17 L417.21 703.77 L417.44 704.36 L417.69 704.91 L417.93 705.42 L418.17 705.88 L418.4 706.3 L418.6 706.67 L418.77 707 L418.93 707.29 L419.09 707.54 L419.27 707.75 L419.49 707.91 L419.76 708.03 L420.1 708.1 L420.5 708.1 L420.95 708.03 L421.43 707.9 L421.96 707.73 L422.53 707.54 L423.15 707.34 L423.8 707.16 L424.5 707 L425.26 706.86 L426.1 706.72 L426.99 706.58 L427.91 706.44 L428.86 706.3 L429.8 706.16 L430.72 706.03 L431.6 705.9 L432.49 705.77 L433.44 705.64 L434.4 705.51 L435.34 705.38 L436.23 705.26 L437.03 705.16 L437.69 705.07 L438.2 705 L438.21 704.47 L438.23 703.74 L438.24 702.87 L438.26 701.92 L438.29 700.94 L438.32 699.99 L438.35 699.12 L438.4 698.4 L438.45 697.81 L438.49 697.28 L438.54 696.8 L438.6 696.38 L438.67 695.98 L438.76 695.61 L438.86 695.25 L439 694.9 L439.15 694.57 L439.31 694.27 L439.48 694 L439.68 693.74 L439.9 693.5 L440.15 693.25 L440.45 692.99 L440.8 692.7 L441.22 692.39 L441.71 692.06 L442.26 691.73 L442.83 691.39 L443.41 691.05 L443.99 690.72 L444.52 690.4 L445 690.1 L445.4 689.82 L445.75 689.56 L446.05 689.31 L446.34 689.06 L446.65 688.82 L446.99 688.59 L447.4 688.35 L447.9 688.1 L448.53 687.84 L449.3 687.55 L450.15 687.26 L451.03 686.98 L451.89 686.7 L452.67 686.46 L453.32 686.25 L453.8 686.1 L462.6 687.4 L462.6 688.55 L462.59 690.18 L462.57 692.12 L462.56 694.23 L462.56 696.35 L462.58 698.34 L462.62 700.04 L462.7 701.3 L462.82 702.1 L462.98 702.56 L463.17 702.78 L463.38 702.84 L463.58 702.83 L463.78 702.85 L463.96 702.97 L464.1 703.3 L464.19 703.83 L464.23 704.49 L464.25 705.22 L464.26 705.99 L464.28 706.76 L464.33 707.48 L464.43 708.11 L464.6 708.6 L464.83 708.98 L465.11 709.29 L465.42 709.53 L465.78 709.72 L466.16 709.84 L466.58 709.91 L467.03 709.93 L467.5 709.9 L468 709.78 L468.54 709.57 L469.11 709.28 L469.71 708.94 L470.34 708.59 L470.99 708.25 L471.68 707.94 L472.4 707.7 L473.15 707.52 L473.95 707.37 L474.78 707.24 L475.64 707.13 L476.52 707.02 L477.41 706.92 L478.31 706.82 L479.2 706.7 L480.15 706.57 L481.18 706.43 L482.26 706.28 L483.32 706.14 L484.34 706 L485.26 705.88 L486.02 705.78 L486.6 705.7 L486.6 705.19 L486.6 704.48 L486.6 703.63 L486.59 702.71 L486.6 701.76 L486.62 700.86 L486.65 700.05 L486.7 699.4 L486.76 698.9 L486.83 698.48 L486.91 698.13 L487.01 697.84 L487.12 697.58 L487.25 697.35 L487.41 697.13 L487.6 696.9 L487.84 696.67 L488.15 696.46 L488.5 696.27 L488.86 696.09 L489.21 695.94 L489.53 695.81 L489.8 695.69 L490 695.6 L490.75 695.71 L491.75 695.87 L492.93 696.06 L494.25 696.27 L495.65 696.47 L497.08 696.66 L498.48 696.81 L499.8 696.9 L501.14 696.94 L502.6 696.93 L504.11 696.89 L505.61 696.83 L507.04 696.76 L508.32 696.69 L509.39 696.63 L510.2 696.6" fill="none" stroke="#52b8e0" stroke-width="2.2" stroke-linejoin="round" stroke-linecap="round" />
<rect x="210.4" y="536.2" width="299.8" height="220.6" fill="none" stroke="#333333" stroke-width="1.35"/></svg>
</body></html>
